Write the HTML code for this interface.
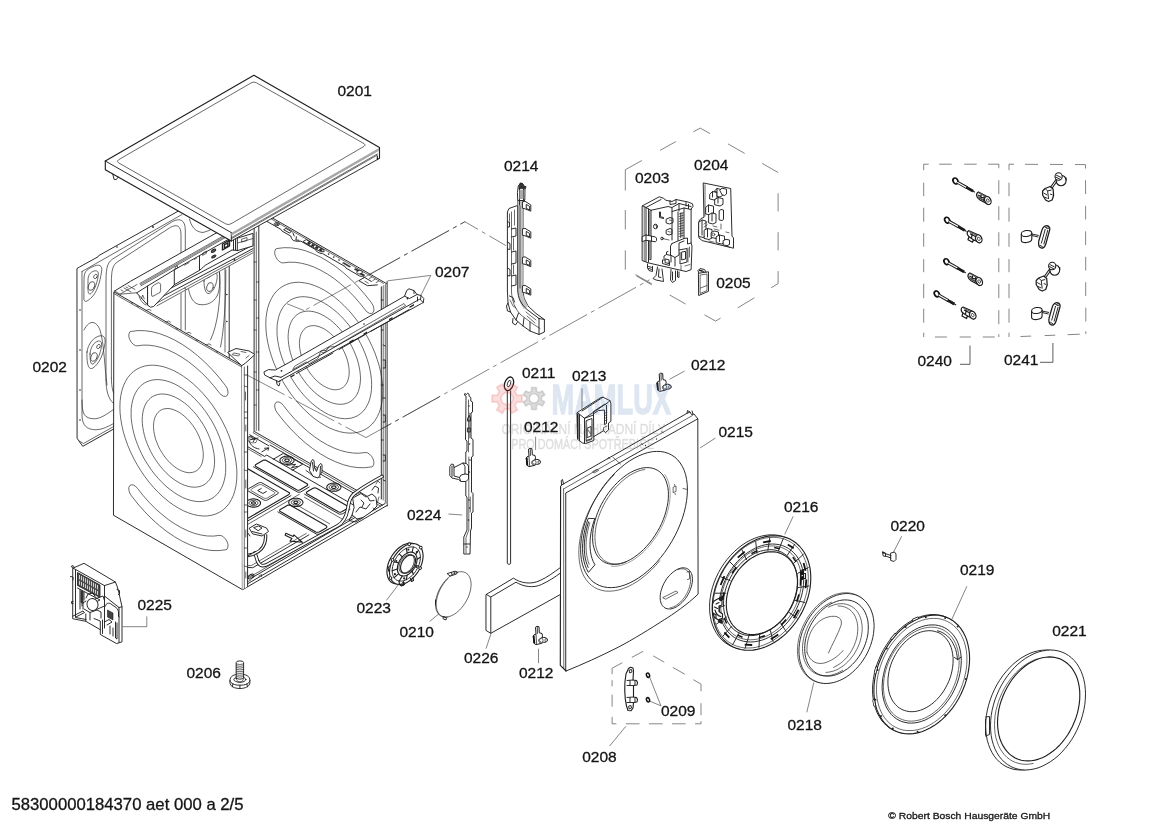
<!DOCTYPE html>
<html><head><meta charset="utf-8"><title>Exploded view</title>
<style>
html,body{margin:0;padding:0;background:#fff;}
body{width:1170px;height:828px;overflow:hidden;font-family:"Liberation Sans",sans-serif;}
svg{display:block;will-change:transform;}
svg text{font-family:"Liberation Sans",sans-serif;fill:#141414;stroke:#141414;stroke-width:.3px;}
.k{fill:none;stroke:#222;stroke-width:.95;stroke-linejoin:round;stroke-linecap:round;}
.k2{fill:none;stroke:#1e1e1e;stroke-width:1.12;stroke-linejoin:round;stroke-linecap:round;}
.t{fill:none;stroke:#2a2a2a;stroke-width:.7;stroke-linejoin:round;stroke-linecap:round;}
.h{fill:none;stroke:#444;stroke-width:.5;stroke-linejoin:round;stroke-linecap:round;}
.w{fill:#fff;}
.ns *{vector-effect:non-scaling-stroke;}
.dd{fill:none;stroke:#333;stroke-width:.7;stroke-dasharray:22 4 3 4;}
.ds{fill:none;stroke:#333;stroke-width:.7;stroke-dasharray:12 7;}
.ld{fill:none;stroke:#333;stroke-width:.6;}
</style></head><body>
<svg width="1170" height="828" viewBox="0 0 1170 828">
<rect x="0" y="0" width="1170" height="828" fill="#fff"/>
<!-- 02_axes.svg -->
<g id="axes">
<path class="ld" d="M464.900,221.700 L505.900,245.600" style="stroke-dasharray:43 4.5 4 4.5;stroke-dashoffset:27.8"/>
<path class="ld" d="M464.900,221.700 L304.200,310.600" style="stroke-dasharray:43 4.5 4 4.5;stroke-dashoffset:38"/>
<path class="ld" d="M366,437.600 L649.500,279.800" style="stroke-dasharray:43 4.5 4 4.5;stroke-dashoffset:14"/>
</g>

<!-- 05_dashes.svg -->
<g id="dashes">
<path class="ld" d="M625.3,169.7 L641.9,160.5 M660,150.4 L675.8,141.6 M693.3,131.9 L700.3,128.1 M700.3,128.1 L710,133.6 M728,143.9 L744.7,153.4 M762.2,163.4 L778.1,172.5 M778.1,193.3 L778.1,211.4 M778.1,232.2 L778.1,250.3 M778.1,271.1 L778.1,283.6 M778.1,283.6 L771.1,287.8 M754.4,297.8 L737.8,307.8 M720.6,318.1 L715.6,321.1 M715.6,321.1 L704.5,314.8 M685.6,304 L669.7,295 M651.6,284.7 L636.4,276 M625.3,269.7 L625.3,250.3 M625.3,229.4 L625.3,210 M625.3,190.5 L625.3,169.7 "/>
</g>
<g id="dashes2">
<path class="ld" d="M923.7,164.2 L928.7,164.2 M939.2,164.2 L951.7,164.2 M964.2,164.2 L976.7,164.2 M988.2,164.2 L998.8,164.2 M998.8,164.2 L998.8,168.2 M998.8,180.2 L998.8,194.2 M998.8,206.2 L998.8,220.2 M998.8,232.2 L998.8,246.2 M998.8,258.2 L998.8,272.2 M998.8,284.2 L998.8,298.2 M998.8,310.2 L998.8,324.2 M998.8,334.2 L998.8,337 M934.9,337 L946.9,337 M959.7,337 L970.8,337 M982.8,337 L994.7,337 M923.7,164.2 L923.7,170.2 M923.7,182.7 L923.7,196.2 M923.7,207.7 L923.7,221.7 M923.7,233.2 L923.7,246.7 M923.7,259.2 L923.7,272.2 M923.7,283.7 L923.7,298.2 M923.7,308.7 L923.7,322.7 M923.7,332.7 L923.7,337 "/>
<path class="ld" d="M1009,164.2 L1014,164.2 M1025,164.3 L1038,164.4 M1050,164.4 L1063,164.5 M1075,164.5 L1085.5,164.6 M1085.5,164.6 L1085.5,168.5 M1085.5,180.3 L1085.6,194 M1085.6,205.8 L1085.6,219.5 M1085.6,231.3 L1085.6,245 M1085.7,256.8 L1085.7,270.5 M1085.7,282.2 L1085.7,296 M1085.8,307.7 L1085.8,321.5 M1085.8,331.3 L1085.8,334 M1020.5,336.5 L1031.1,336.1 M1044.6,335.6 L1055.2,335.2 M1067.7,334.7 L1079.8,334.2 M1009,164.2 L1009,170.2 M1009,182.7 L1009,196.2 M1009,207.7 L1009,221.7 M1009,233.2 L1009,246.7 M1009,259.2 L1009,272.2 M1009,283.7 L1009,298.2 M1009,308.7 L1009,322.7 M1009,332.7 L1009,337 "/>
</g>
<g id="dashes3"><path class="ld" d="M612.1,674.2 L612.1,668.2 M612.1,668.2 L622.4,662.7 M631.8,657.4 L643.2,651.3 M653.2,655.9 L664.3,662.2 M672.8,667.4 L684.8,674.2 M693.3,679.7 L701,684.1 M701,684.1 L701,691.3 M701,703.2 L701,715.2 M701,721.2 L701,723.8 M701,723.8 L695,723.8 M685.6,723.8 L672,723.8 M662.6,723.8 L648.9,723.8 M639.5,723.8 L625.8,723.8 M616.4,723.8 L612.1,723.8 M612.1,723.8 L612.1,716.9 M612.1,706.7 L612.1,694.7 M612.1,686.2 L612.1,680.2 "/></g>

<!-- 10_rear0202.svg -->
<g id="p0202">
<!-- rear panel outline -->
<path class="k w" d="M77.3,268.3 L79.5,267 L98,256.8 L98.6,255.7 L182,209 L229.2,225 L229.2,364.3 L82.8,446.3 L78.8,440.8 L77.3,438.5 Z"/>
<path class="t" d="M82,271.5 L182,214.5 M82,271.5 L82,400 C82,414 84,418.500 94.500,418.800 C101,418.500 107,414 113.700,409.400 M82,400 L82,416 C82.500,425 86,429.500 96,429.800 C103,429.500 108,426.500 113.700,423.500 M78.800,440.800 L83.500,443.500 L113.700,426.500"/>
<!-- big window contour (double line) -->
<path class="t" d="M106,380 L106,281 C106,266 108,261.500 114.300,258 L172.200,221.700 C180,217.500 185.300,220 185.300,230 L185.300,330"/>
<path class="t" d="M111.400,378 L111.400,283 C111.400,270 112.500,265 118,261.500 L170.500,227.300 C177,224 181,225.500 181,235 L181,330"/>
<path class="t" d="M106,380 C106,402 116,412 134,403 L182,376"/>
<path class="t" d="M111.400,378 C111.400,397 118,405.500 134,398 L182,371.500"/>
<!-- upper-left transport hole -->
<path class="t" d="M84,279 C84,272 86,270 92,267 C99,263.500 103,265 101.500,272 C100,282 97,292 92,297 C88,301 85,303 84,300 Z"/>
<path class="t" d="M88,280 C88,275 90,272.500 94,271 C98,270 99,272.500 98,277 C96.500,285 94,291 91,293.500 C89,295 88,293 88,290 Z"/>
<ellipse class="t" cx="91.500" cy="286" rx="3" ry="4.500" transform="rotate(20 91.500 286)"/>
<ellipse class="t" cx="95.500" cy="276.500" rx="1.600" ry="2.300" transform="rotate(30 95.500 276.500)"/>
<!-- lower-left transport hole -->
<path class="t" d="M87,352 C88,344 93,338 99,336 C105,334.500 106,339 104.500,346 C103,355 99,364 93,368 C88,371 86.500,362 87,352 Z"/>
<path class="t" d="M90,354 C90.500,347 94,342 98.500,341 C102,340.500 102,344 101,349 C99.500,356 96.500,362 93,364 C90.500,365 90,360 90,354 Z"/>
<ellipse class="t" cx="94" cy="357" rx="3" ry="4.500" transform="rotate(20 94 357)"/>
<ellipse class="t" cx="98.500" cy="346.500" rx="1.600" ry="2.300" transform="rotate(30 98.500 346.500)"/>
<!-- sweep lines lower -->
<path class="t" d="M84,330 C90,318 97,322 100,330 C104,342 105,372 107,385"/>
<!-- upper sweep near top panel -->
<path class="t" d="M189.500,219 C191,226 195,232 203,232.500 L210,230.200"/>
<!-- right edge of rear panel seen through cabinet -->
<path class="t" d="M225,262 L225,352"/>
<path class="t" d="M219.500,272 C221.500,295 218,325 210.500,340 M225.800,270 C226,300 224,330 220.500,347"/>
<g fill="#222"><circle cx="226.800" cy="294.500" r=".8"/><circle cx="226.800" cy="321.500" r=".8"/></g>
<!-- upper right transport hole seen through -->
<path class="t" d="M188.500,289 C190,297 193,303 199,304.500 C207,305.500 213,303 217,296 C220,290 220,282 219.500,272"/>
<path class="t" d="M204,281 C204.500,276 209,272 213.500,271.500 C217,271.500 217.500,275 217,279 C216,286 213,292 209,293.500 C205.500,294 204,288 204,281 Z"/>
<ellipse class="t" cx="210" cy="287" rx="3.200" ry="4.500" transform="rotate(15 210 287)"/>
<path class="t" d="M207,276 l3,-1.500 M207.500,278 l3,-1.500"/>
<!-- rivets -->
<g fill="#222"><circle cx="153" cy="227" r=".9"/><circle cx="117" cy="247" r=".8"/><circle cx="80" cy="310" r=".8"/><circle cx="80" cy="350" r=".8"/><circle cx="80" cy="390" r=".8"/><circle cx="80" cy="420" r=".8"/></g>
</g>

<!-- 20_cab_right.svg -->
<g id="cabR">
<path class="w" d="M254.1,222 L381.3,284.5 L381.3,500 L254.1,431 Z"/>
<path class="t" d="M349.2,372 L349.1,374.5 L348.8,376.8 L348.3,378.9 L347.7,381 L346.9,382.8 L345.8,384.4 L344.7,385.9 L343.4,387.1 L341.9,388.1 L340.3,388.9 L338.6,389.4 L336.7,389.7 L334.8,389.8 L332.8,389.6 L330.7,389.1 L328.6,388.4 L326.5,387.5 L324.3,386.4 L322.1,385 L320,383.5 L317.9,381.7 L315.8,379.8 L313.8,377.7 L311.9,375.4 L310,373 L308.3,370.5 L306.7,367.9 L305.2,365.2 L303.9,362.4 L302.8,359.7 L301.7,356.9 L300.9,354.1 L300.3,351.3 L299.8,348.6 L299.5,345.9 L299.4,343.4 L299.5,340.9 L299.8,338.6 L300.3,336.5 L300.9,334.4 L301.7,332.6 L302.8,331 L303.9,329.5 L305.2,328.3 L306.7,327.3 L308.3,326.5 L310,326 L311.9,325.7 L313.8,325.6 L315.8,325.8 L317.9,326.3 L320,327 L322.1,327.9 L324.3,329 L326.5,330.4 L328.6,331.9 L330.7,333.7 L332.8,335.6 L334.8,337.7 L336.7,340 L338.6,342.4 L340.3,344.9 L341.9,347.5 L343.4,350.2 L344.7,353 L345.8,355.7 L346.9,358.5 L347.7,361.3 L348.3,364.1 L348.8,366.8 L349.1,369.5 Z"/>
<path class="t" d="M360.5,378.5 L360.3,382 L359.9,385.4 L359.2,388.6 L358.3,391.5 L357.1,394.2 L355.6,396.6 L353.9,398.6 L352,400.4 L349.9,401.9 L347.5,403 L345,403.8 L342.4,404.2 L339.6,404.3 L336.7,404 L333.7,403.4 L330.6,402.4 L327.5,401.1 L324.3,399.4 L321.1,397.4 L318,395.2 L314.9,392.6 L311.9,389.8 L309,386.7 L306.2,383.4 L303.6,379.9 L301.1,376.3 L298.7,372.5 L296.6,368.6 L294.7,364.6 L293,360.5 L291.5,356.5 L290.3,352.4 L289.4,348.4 L288.7,344.5 L288.3,340.6 L288.1,336.9 L288.3,333.4 L288.7,330 L289.4,326.8 L290.3,323.9 L291.5,321.2 L293,318.8 L294.7,316.8 L296.6,315 L298.7,313.5 L301.1,312.4 L303.6,311.6 L306.2,311.2 L309,311.1 L311.9,311.4 L314.9,312 L318,313 L321.1,314.3 L324.3,316 L327.5,318 L330.6,320.2 L333.7,322.8 L336.7,325.6 L339.6,328.7 L342.4,332 L345,335.5 L347.5,339.1 L349.9,342.9 L352,346.8 L353.9,350.8 L355.6,354.9 L357.1,358.9 L358.3,363 L359.2,367 L359.9,370.9 L360.3,374.8 Z"/>
<path class="t" d="M371.6,384.9 L371.5,389.6 L370.9,394 L370,398.1 L368.8,402 L367.2,405.4 L365.3,408.6 L363.1,411.3 L360.6,413.6 L357.8,415.6 L354.7,417 L351.5,418 L348,418.6 L344.3,418.7 L340.5,418.3 L336.6,417.5 L332.5,416.2 L328.4,414.5 L324.3,412.3 L320.2,409.7 L316.1,406.7 L312,403.4 L308.1,399.7 L304.3,395.7 L300.6,391.4 L297.1,386.8 L293.9,382 L290.8,377.1 L288,371.9 L285.5,366.7 L283.3,361.4 L281.4,356.1 L279.8,350.8 L278.6,345.5 L277.7,340.4 L277.1,335.3 L277,330.5 L277.1,325.8 L277.7,321.4 L278.6,317.3 L279.8,313.4 L281.4,310 L283.3,306.8 L285.5,304.1 L288,301.8 L290.8,299.8 L293.9,298.4 L297.1,297.4 L300.6,296.8 L304.3,296.7 L308.1,297.1 L312,297.9 L316.1,299.2 L320.2,300.9 L324.3,303.1 L328.4,305.7 L332.5,308.7 L336.6,312 L340.5,315.7 L344.3,319.7 L348,324 L351.5,328.6 L354.7,333.4 L357.8,338.3 L360.6,343.5 L363.1,348.7 L365.3,354 L367.2,359.3 L368.8,364.6 L370,369.9 L370.9,375 L371.5,380.1 Z"/>
<path class="t" d="M382.8,391.3 L382.6,397.1 L381.9,402.6 L380.8,407.7 L379.3,412.4 L377.3,416.7 L375,420.6 L372.2,424 L369.1,426.9 L365.7,429.2 L361.9,431 L357.9,432.3 L353.6,433 L349,433.1 L344.3,432.6 L339.4,431.6 L334.5,430 L329.4,427.9 L324.3,425.2 L319.2,422 L314.1,418.3 L309.2,414.2 L304.3,409.6 L299.6,404.7 L295,399.3 L290.7,393.7 L286.7,387.8 L282.9,381.6 L279.5,375.3 L276.4,368.9 L273.6,362.3 L271.3,355.7 L269.3,349.2 L267.8,342.7 L266.7,336.3 L266,330.1 L265.8,324.1 L266,318.3 L266.7,312.8 L267.8,307.7 L269.3,303 L271.3,298.7 L273.6,294.8 L276.4,291.4 L279.5,288.5 L282.9,286.2 L286.7,284.4 L290.7,283.1 L295,282.4 L299.6,282.3 L304.3,282.8 L309.2,283.8 L314.1,285.4 L319.2,287.5 L324.3,290.2 L329.4,293.4 L334.5,297.1 L339.4,301.2 L344.3,305.8 L349,310.7 L353.6,316.1 L357.9,321.7 L361.9,327.6 L365.7,333.8 L369.1,340.1 L372.2,346.5 L375,353.1 L377.3,359.7 L379.3,366.2 L380.8,372.7 L381.9,379.1 L382.6,385.3 Z"/>
<path class="t" d="M277.2,248.5 L283.8,247.7 L290.7,247.8 L297.9,248.8 L305.3,250.7 L312.8,253.5 L320.5,257.1 L328.1,261.5 L335.8,266.7 L343.3,272.6 L350.7,279.2 L357.9,286.5 L364.8,294.3 L371.4,302.7 L373,305.3 L373.8,308.2 L373.9,310.7 L373,312.6 L371.5,313.5 L369.4,313.3 L367.2,312.1 L365.2,309.9 L359.5,302.7 L353.5,295.9 L347.3,289.6 L340.8,283.9 L334.3,278.7 L327.6,274.2 L321,270.4 L314.3,267.2 L307.8,264.8 L301.3,263.2 L295.1,262.3 L289.1,262.2 L283.4,262.9 L281.4,262.7 L279.2,261.4 L277.1,259.2 L275.6,256.6 L274.7,253.7 L274.8,251.2 L275.6,249.3 Z"/>
<path class="t" d="M371.4,466.9 L364.8,467.7 L357.9,467.6 L350.7,466.6 L343.3,464.7 L335.8,461.9 L328.1,458.3 L320.5,453.9 L312.8,448.7 L305.3,442.8 L297.9,436.2 L290.7,428.9 L283.8,421.1 L277.2,412.7 L275.6,410.1 L274.8,407.2 L274.7,404.7 L275.6,402.8 L277.1,401.9 L279.2,402.1 L281.4,403.3 L283.4,405.5 L289.1,412.7 L295.1,419.5 L301.3,425.8 L307.8,431.5 L314.3,436.7 L321,441.2 L327.6,445 L334.3,448.2 L340.8,450.6 L347.3,452.2 L353.5,453.1 L359.5,453.2 L365.2,452.5 L367.2,452.7 L369.4,454 L371.5,456.2 L373,458.8 L373.9,461.7 L373.8,464.2 L373,466.1 Z"/>
<path class="k" d="M254.1,228 L254.1,440 M258.8,226 L258.8,436"/>
<path class="t" d="M256.3,232 L256.3,438"/>
<path class="t" d="M254.1,262 l2.2,0 M254.1,300 l2.2,0 M256.3,282 l2.5,0 M254.1,330 l2.2,0 M256.3,352 l2.5,0 M254.1,372 l2.2,0 M254.1,405 l2.2,0 M256.3,318 l2.5,0 M256.3,390 l2.5,0"/>
<path class="k" d="M381.3,284 L381.3,499 M387.1,281.5 L387.1,506"/>
<path class="t" d="M383.2,285 L383.2,500 M385.3,284 L385.3,503"/>
<path class="k" d="M381.3,300 l1.9,0 M383.2,312 l2.1,0 l0,6 l-2.1,0 M381.3,330 l1.9,0 M383.2,345 l2.1,1 M383.2,360 l2.1,0 l0,8 l-2.1,0 M381.3,385 l1.9,0 M383.2,398 l2.1,0 M383.2,415 l2.1,0 l0,7 l-2.1,0 M381.3,440 l1.9,0 M383.2,455 l2.1,0 l0,6 l-2.1,0 M383.2,480 l2.1,1"/>
<path class="w" d="M260.8,211.3 L386.5,283.6 L380.5,287.1 L254.8,214.8 Z"/>
<path class="k" d="M260.8,211.3 L386.5,283.6"/>
<path class="t" d="M261.1,213.1 L383.4,283.4"/>
<path class="k" d="M256.9,215.6 L281.2,229.6 L282.1,231.1 L290.7,236 L291.6,238.5 L293.3,240.5 L297.2,241.3 L300.9,241.2 L315.6,249.6 L316.3,251.2 L319.8,253.2 L322.6,253.6 L345.1,266.6 L346,268.1 L359.8,276.1 L362.7,276.4 L371.4,281.4"/>
<path class="k" d="M278.7,225.2 L278.5,225.3 L278.3,225.4 L278.1,225.4 L277.9,225.5 L277.7,225.6 L277.5,225.6 L277.2,225.6 L277,225.7 L276.8,225.7 L276.5,225.7 L276.3,225.6 L276.1,225.6 L275.8,225.6 L275.6,225.5 L275.4,225.5 L275.2,225.4 L275,225.3 L274.9,225.2 L274.7,225.1 L274.6,225 L274.4,224.9 L274.3,224.8 L274.2,224.6 L274.2,224.5 L274.1,224.4 L274.1,224.2 L274.1,224.1 L274.1,224 L274.1,223.8 L274.2,223.7 L274.2,223.6 L274.3,223.5 L274.4,223.3 L274.6,223.2 L274.7,223.1 L274.9,223 L275,222.9 L275.2,222.8 L275.4,222.8 L275.6,222.7 L275.8,222.6 L276.1,222.6 L276.3,222.6 L276.5,222.5 L276.8,222.5 L277,222.5 L277.2,222.6 L277.5,222.6 L277.7,222.6 L277.9,222.7 L278.1,222.7 L278.3,222.8 L278.5,222.9 L278.7,223 L278.8,223.1 L279,223.2 L279.1,223.3 L279.2,223.4 L279.3,223.6 L279.4,223.7 L279.4,223.8 L279.4,224 L279.5,224.1 L279.4,224.2 L279.4,224.4 L279.4,224.5 L279.3,224.6 L279.2,224.8 L279.1,224.9 L279,225 L278.8,225.1 Z"/>
<path class="k" d="M277.6,224.6 L277.5,224.6 L277.5,224.7 L277.4,224.7 L277.3,224.7 L277.2,224.8 L277.1,224.8 L277,224.8 L276.9,224.8 L276.8,224.8 L276.7,224.8 L276.6,224.8 L276.4,224.8 L276.3,224.8 L276.2,224.7 L276.2,224.7 L276.1,224.7 L276,224.6 L275.9,224.6 L275.8,224.6 L275.8,224.5 L275.7,224.5 L275.7,224.4 L275.6,224.3 L275.6,224.3 L275.6,224.2 L275.5,224.2 L275.5,224.1 L275.5,224 L275.6,224 L275.6,223.9 L275.6,223.9 L275.7,223.8 L275.7,223.8 L275.8,223.7 L275.8,223.6 L275.9,223.6 L276,223.6 L276.1,223.5 L276.1,223.5 L276.2,223.5 L276.3,223.4 L276.4,223.4 L276.5,223.4 L276.7,223.4 L276.8,223.4 L276.9,223.4 L277,223.4 L277.1,223.4 L277.2,223.4 L277.3,223.5 L277.4,223.5 L277.5,223.5 L277.5,223.6 L277.6,223.6 L277.7,223.6 L277.8,223.7 L277.8,223.7 L277.9,223.8 L277.9,223.9 L277.9,223.9 L278,224 L278,224 L278,224.1 L278,224.2 L278,224.2 L277.9,224.3 L277.9,224.3 L277.9,224.4 L277.8,224.5 L277.8,224.5 L277.7,224.6 Z"/>
<path class="k" d="M286.3,228.6 L291.5,231.6 L289.3,232.9 L284,229.9 Z M292.9,232.8 L294.2,236"/>
<path class="k" d="M296.4,236.8 L295.9,240 L299,240.3"/>
<path class="k" d="M306.6,239.8 L323.9,249.8 L324.1,251.7 L320.6,251.7 L303.3,241.8 Z"/>
<path d="M308.5,241.7 L310.7,243 L309.5,244.5 L307.3,243.3 Z" fill="#222" stroke="#222" stroke-width=".5"/><path d="M312.4,244 L314.6,245.3 L313.4,246.8 L311.2,245.5 Z" fill="#222" stroke="#222" stroke-width=".5"/><path d="M316.3,246.2 L318.5,247.5 L317.3,249 L315.1,247.7 Z" fill="#222" stroke="#222" stroke-width=".5"/><path d="M320.2,248.5 L322.5,249.8 L321.2,251.3 L319,250 Z" fill="#222" stroke="#222" stroke-width=".5"/><circle cx="328.6" cy="254.1" r=".8" fill="#222"/><circle cx="333.8" cy="257.1" r=".8" fill="#222"/><circle cx="339" cy="260.1" r=".8" fill="#222"/><path d="M343.7,262.4 L350.6,266.4 L349.4,267.1 L342.5,263.1 Z" fill="#222" stroke="#222" stroke-width=".5"/><path class="k" d="M361.7,273.4 L361.5,273.5 L361.3,273.5 L361.1,273.6 L360.9,273.7 L360.7,273.8 L360.4,273.8 L360.2,273.8 L359.9,273.9 L359.7,273.9 L359.4,273.9 L359.1,273.8 L358.9,273.8 L358.6,273.8 L358.4,273.7 L358.2,273.6 L358,273.6 L357.8,273.5 L357.6,273.4 L357.4,273.3 L357.2,273.1 L357.1,273 L357,272.9 L356.9,272.8 L356.8,272.6 L356.8,272.5 L356.7,272.3 L356.7,272.2 L356.7,272 L356.8,271.9 L356.8,271.7 L356.9,271.6 L357,271.4 L357.1,271.3 L357.2,271.2 L357.4,271.1 L357.6,271 L357.8,270.9 L358,270.8 L358.2,270.7 L358.4,270.6 L358.6,270.6 L358.9,270.5 L359.1,270.5 L359.4,270.5 L359.6,270.5 L359.9,270.5 L360.2,270.5 L360.4,270.5 L360.6,270.6 L360.9,270.6 L361.1,270.7 L361.3,270.8 L361.5,270.8 L361.7,270.9 L361.9,271.1 L362.1,271.2 L362.2,271.3 L362.3,271.4 L362.4,271.6 L362.5,271.7 L362.5,271.9 L362.6,272 L362.6,272.1 L362.6,272.3 L362.5,272.4 L362.5,272.6 L362.4,272.7 L362.3,272.9 L362.2,273 L362.1,273.1 L361.9,273.2 Z"/>
<path d="M355.7,268.4 L359.2,270.4 L357.7,271.3 L354.3,269.3 Z" fill="#222" stroke="#222" stroke-width=".5"/><path d="M361.4,273.2 L364.8,275.1 L363.5,276 L360,274 Z" fill="#222" stroke="#222" stroke-width=".5"/><path class="t" d="M371.8,277.1 L369.2,278.6 M375.2,279.1 L372.7,280.6 M378.7,281.1 L376.1,282.6"/>
<path class="k" d="M364.4,277.4 L358.8,280.7 L367.5,285.7 L377.4,284.9"/>
<path class="t" d="M364.9,281.2 L368.3,283.2"/>
</g>

<!-- 25_floor.svg -->
<g id="floor">
<path class="w" d="M257.5,430.3 L387.6,505.1 L243.3,589.3 L113.3,514.6 Z"/>
<path class="k" d="M254.9,431.8 L382.4,505.1"/>
<path class="t" d="M253.2,432.8 L380.6,506.1"/>
<path class="k" d="M249.7,434.8 L268.8,445.8 M270.1,445.1 L374.1,504.9"/>
<path class="k" d="M238.5,441.4 L264.5,456.4 L266.7,455.1 L362,509.9"/>
<path class="t" d="M236.8,442.4 L261.1,456.4"/>
<path class="k2" d="M292.1,463.2 L291.6,463.4 L291.1,463.6 L290.6,463.8 L290,464 L289.5,464.1 L288.9,464.3 L288.3,464.3 L287.7,464.4 L287,464.4 L286.4,464.4 L285.8,464.3 L285.2,464.3 L284.6,464.2 L284,464 L283.5,463.9 L283,463.7 L282.5,463.5 L282,463.2 L281.6,463 L281.2,462.7 L280.9,462.4 L280.6,462 L280.4,461.7 L280.2,461.4 L280,461 L280,460.7 L279.9,460.3 L280,460 L280,459.6 L280.2,459.2 L280.3,458.9 L280.6,458.6 L280.9,458.3 L281.2,457.9 L281.6,457.7 L282,457.4 L282.5,457.2 L282.9,456.9 L283.5,456.7 L284,456.6 L284.6,456.4 L285.2,456.3 L285.8,456.2 L286.4,456.2 L287,456.2 L287.6,456.2 L288.2,456.2 L288.8,456.3 L289.4,456.4 L290,456.5 L290.6,456.7 L291.1,456.9 L291.6,457.1 L292,457.4 L292.5,457.6 L292.8,457.9 L293.2,458.2 L293.4,458.5 L293.7,458.9 L293.9,459.2 L294,459.5 L294.1,459.9 L294.1,460.3 L294.1,460.6 L294,461 L293.9,461.3 L293.7,461.7 L293.5,462 L293.2,462.3 L292.8,462.6 L292.5,462.9 Z"/>
<path class="k" d="M290.3,462.2 L290,462.3 L289.7,462.5 L289.4,462.6 L289,462.7 L288.6,462.8 L288.2,462.9 L287.8,462.9 L287.4,463 L287,463 L286.6,463 L286.2,462.9 L285.8,462.9 L285.4,462.8 L285.1,462.7 L284.7,462.6 L284.4,462.5 L284,462.4 L283.7,462.2 L283.5,462 L283.2,461.8 L283,461.6 L282.8,461.4 L282.7,461.2 L282.5,461 L282.4,460.8 L282.4,460.5 L282.4,460.3 L282.4,460.1 L282.4,459.8 L282.5,459.6 L282.7,459.4 L282.8,459.2 L283,459 L283.2,458.8 L283.5,458.6 L283.7,458.4 L284,458.2 L284.3,458.1 L284.7,458 L285,457.9 L285.4,457.8 L285.8,457.7 L286.2,457.6 L286.6,457.6 L287,457.6 L287.4,457.6 L287.8,457.6 L288.2,457.7 L288.6,457.7 L289,457.8 L289.3,457.9 L289.7,458.1 L290,458.2 L290.3,458.4 L290.6,458.5 L290.8,458.7 L291,458.9 L291.2,459.1 L291.4,459.4 L291.5,459.6 L291.6,459.8 L291.7,460 L291.7,460.3 L291.7,460.5 L291.6,460.7 L291.5,461 L291.4,461.2 L291.2,461.4 L291.1,461.6 L290.8,461.8 L290.6,462 Z"/>
<path class="k2" d="M288.6,461.2 L288.4,461.3 L288.3,461.3 L288.1,461.4 L288,461.4 L287.8,461.5 L287.6,461.5 L287.4,461.5 L287.2,461.6 L287,461.6 L286.8,461.6 L286.6,461.5 L286.5,461.5 L286.3,461.5 L286.1,461.4 L285.9,461.4 L285.8,461.3 L285.6,461.3 L285.5,461.2 L285.3,461.1 L285.2,461 L285.1,460.9 L285,460.8 L285,460.7 L284.9,460.6 L284.9,460.5 L284.8,460.4 L284.8,460.3 L284.8,460.2 L284.9,460.1 L284.9,460 L285,459.9 L285,459.8 L285.1,459.7 L285.2,459.6 L285.3,459.5 L285.5,459.4 L285.6,459.3 L285.8,459.2 L285.9,459.2 L286.1,459.1 L286.3,459.1 L286.4,459.1 L286.6,459 L286.8,459 L287,459 L287.2,459 L287.4,459 L287.6,459.1 L287.8,459.1 L288,459.1 L288.1,459.2 L288.3,459.2 L288.4,459.3 L288.6,459.4 L288.7,459.5 L288.8,459.5 L288.9,459.6 L289,459.7 L289.1,459.8 L289.1,460 L289.2,460.1 L289.2,460.2 L289.2,460.3 L289.2,460.4 L289.2,460.5 L289.2,460.6 L289.1,460.7 L289,460.8 L288.9,460.9 L288.8,461 L288.7,461.1 Z"/>
<path class="k2" d="M338.9,490.1 L338.4,490.3 L337.9,490.6 L337.4,490.8 L336.9,490.9 L336.3,491.1 L335.7,491.2 L335.1,491.3 L334.5,491.3 L333.9,491.3 L333.2,491.3 L332.6,491.3 L332,491.2 L331.4,491.1 L330.9,490.9 L330.3,490.8 L329.8,490.6 L329.3,490.4 L328.8,490.1 L328.4,489.9 L328,489.6 L327.7,489.3 L327.4,489 L327.2,488.6 L327,488.3 L326.9,487.9 L326.8,487.6 L326.7,487.2 L326.8,486.9 L326.8,486.5 L327,486.2 L327.2,485.8 L327.4,485.5 L327.7,485.2 L328,484.9 L328.4,484.6 L328.8,484.3 L329.3,484.1 L329.8,483.9 L330.3,483.7 L330.8,483.5 L331.4,483.3 L332,483.2 L332.6,483.2 L333.2,483.1 L333.8,483.1 L334.4,483.1 L335.1,483.2 L335.7,483.2 L336.3,483.3 L336.8,483.5 L337.4,483.6 L337.9,483.8 L338.4,484 L338.8,484.3 L339.3,484.5 L339.6,484.8 L340,485.1 L340.3,485.4 L340.5,485.8 L340.7,486.1 L340.8,486.5 L340.9,486.8 L340.9,487.2 L340.9,487.5 L340.8,487.9 L340.7,488.2 L340.5,488.6 L340.3,488.9 L340,489.2 L339.7,489.5 L339.3,489.8 Z"/>
<path class="k" d="M337.1,489.1 L336.8,489.3 L336.5,489.4 L336.2,489.5 L335.8,489.6 L335.4,489.7 L335.1,489.8 L334.7,489.9 L334.3,489.9 L333.9,489.9 L333.4,489.9 L333,489.9 L332.6,489.8 L332.3,489.7 L331.9,489.7 L331.5,489.5 L331.2,489.4 L330.9,489.3 L330.6,489.1 L330.3,489 L330,488.8 L329.8,488.6 L329.6,488.4 L329.5,488.1 L329.4,487.9 L329.3,487.7 L329.2,487.5 L329.2,487.2 L329.2,487 L329.3,486.8 L329.3,486.5 L329.5,486.3 L329.6,486.1 L329.8,485.9 L330,485.7 L330.3,485.5 L330.5,485.3 L330.8,485.2 L331.2,485 L331.5,484.9 L331.9,484.8 L332.2,484.7 L332.6,484.6 L333,484.6 L333.4,484.5 L333.8,484.5 L334.2,484.5 L334.6,484.6 L335,484.6 L335.4,484.7 L335.8,484.8 L336.2,484.9 L336.5,485 L336.8,485.1 L337.1,485.3 L337.4,485.5 L337.6,485.6 L337.9,485.8 L338.1,486.1 L338.2,486.3 L338.3,486.5 L338.4,486.7 L338.5,487 L338.5,487.2 L338.5,487.4 L338.4,487.7 L338.3,487.9 L338.2,488.1 L338.1,488.3 L337.9,488.5 L337.7,488.7 L337.4,488.9 Z"/>
<path class="k2" d="M335.4,488.1 L335.3,488.2 L335.1,488.2 L334.9,488.3 L334.8,488.4 L334.6,488.4 L334.4,488.4 L334.2,488.5 L334,488.5 L333.8,488.5 L333.7,488.5 L333.5,488.5 L333.3,488.4 L333.1,488.4 L332.9,488.4 L332.7,488.3 L332.6,488.3 L332.4,488.2 L332.3,488.1 L332.2,488 L332,487.9 L331.9,487.9 L331.8,487.8 L331.8,487.7 L331.7,487.5 L331.7,487.4 L331.6,487.3 L331.6,487.2 L331.6,487.1 L331.7,487 L331.7,486.9 L331.8,486.8 L331.8,486.7 L331.9,486.6 L332,486.5 L332.2,486.4 L332.3,486.3 L332.4,486.2 L332.6,486.2 L332.7,486.1 L332.9,486.1 L333.1,486 L333.3,486 L333.5,486 L333.6,485.9 L333.8,485.9 L334,485.9 L334.2,485.9 L334.4,486 L334.6,486 L334.8,486 L334.9,486.1 L335.1,486.2 L335.3,486.2 L335.4,486.3 L335.5,486.4 L335.6,486.5 L335.7,486.6 L335.8,486.7 L335.9,486.8 L336,486.9 L336,487 L336,487.1 L336,487.2 L336,487.3 L336,487.4 L336,487.5 L335.9,487.6 L335.8,487.7 L335.8,487.8 L335.6,487.9 L335.5,488 Z"/>
<path class="k" d="M273.2,459.3 L283.5,453.3 L302.6,464.2 L292.2,470.3"/>
<path class="k" d="M287,465.3 L295.7,464.3 L291.4,467.8 L297.4,466.3"/>
<path class="t" d="M255.8,442.3 L255.6,442.5 L255.3,442.6 L255,442.7 L254.7,442.7 L254.4,442.8 L254.1,442.8 L253.7,442.8 L253.3,442.8 L253,442.8 L252.6,442.8 L252.2,442.7 L251.8,442.7 L251.5,442.6 L251.1,442.5 L250.7,442.3 L250.4,442.2 L250.1,442 L249.8,441.9 L249.5,441.7 L249.2,441.5 L248.9,441.3 L248.7,441.1 L248.5,440.9 L248.4,440.7 L248.2,440.4 L248.1,440.2 L248.1,440 L248,439.8 L248,439.6 L248,439.4 L248.1,439.2 L248.2,439 L248.3,438.8 L248.5,438.6 L248.7,438.5 L248.9,438.4 L249.1,438.2 L249.4,438.1 L249.7,438 L250,438 L250.3,437.9 L250.6,437.9 L251,437.8 L251.4,437.8 L251.7,437.9 L252.1,437.9 L252.5,438 L252.9,438 L253.2,438.1 L253.6,438.2 L253.9,438.4 L254.3,438.5 L254.6,438.7 L254.9,438.8 L255.2,439 L255.5,439.2 L255.7,439.4 L256,439.6 L256.2,439.8 L256.3,440 L256.5,440.3 L256.6,440.5 L256.6,440.7 L256.7,440.9 L256.7,441.1 L256.6,441.3 L256.6,441.5 L256.5,441.7 L256.4,441.9 L256.2,442 L256,442.2 Z"/>
<path class="k" d="M249.7,439.9 L254.9,438.8 L253.2,441.8"/>
<path class="k" d="M261.9,451.8 L267.9,448.3 M264.5,448.3 L268.8,447.8 L268,450.3"/>
<circle cx="315.6" cy="476.7" r=".8" fill="#222"/><circle cx="320" cy="477.2" r=".8" fill="#222"/><path class="k2" d="M262.8,460.4 L263.6,460.1 L264.5,460 L265.5,460.1 L266.3,460.4 L307,483.8 L307.5,484.2 L307.7,484.8 L307.5,485.3 L307,485.8 L300.1,489.8 L299.3,490.1 L298.4,490.3 L297.4,490.1 L296.6,489.8 L255.9,466.4 L255.4,466 L255.2,465.4 L255.4,464.9 L255.9,464.4 Z"/>
<path class="k" d="M253.5,466.8 L297.7,492.2 L300.5,492.1 L309.2,487"/>
<path class="k2" d="M313.1,488.3 L313.9,488 L314.8,487.9 L315.7,488 L316.5,488.3 L347.8,506.2 L348.3,506.7 L348.5,507.2 L348.3,507.8 L347.8,508.2 L341.7,511.8 L340.9,512.1 L340,512.2 L339,512.1 L338.3,511.8 L307,493.8 L306.5,493.4 L306.3,492.8 L306.5,492.3 L307,491.8 Z"/>
<path class="k" d="M304.6,494.2 L339.3,514.2 L342.2,514 L349.9,509.5"/>
<path class="k2" d="M287.2,505.4 L288,505.1 L288.9,505 L289.8,505.1 L290.6,505.4 L326.2,525.8 L326.7,526.3 L326.9,526.9 L326.7,527.4 L326.2,527.9 L319.3,531.9 L318.5,532.2 L317.6,532.3 L316.6,532.2 L315.8,531.9 L280.3,511.5 L279.7,511 L279.6,510.5 L279.7,509.9 L280.3,509.5 Z"/>
<path class="k" d="M277.9,511.9 L316.9,534.3 L319.7,534.1 L328.4,529.1"/>
<path class="k2" d="M235.1,463.5 L235.9,463.2 L236.8,463.1 L237.8,463.2 L238.6,463.5 L288.9,492.4 L289.4,492.8 L289.6,493.4 L289.4,493.9 L288.9,494.4 L244,520.6 L243.2,520.9 L242.2,521 L241.3,520.9 L240.5,520.6 L190.2,491.7 L189.7,491.3 L189.5,490.7 L189.7,490.2 L190.2,489.7 Z"/>
<path class="k" d="M187.8,492.1 L241.6,523 L244.4,522.9 L291,495.6"/>
<path class="t" d="M299.3,494.3 L247.4,524.6 M304.5,497.3 L344.3,520.3 M294.1,503.4 L329.6,523.8"/>
<path class="k" d="M258.5,483 L259.3,482.6 L260.3,482.5 L261.2,482.6 L262,482.9 L277.6,491.9 L278.1,492.4 L278.3,492.9 L278.2,493.5 L277.6,493.9 L267.3,500 L266.5,500.3 L265.5,500.4 L264.6,500.3 L263.8,500 L248.2,491 L247.7,490.6 L247.5,490 L247.7,489.5 L248.2,489 Z"/>
<path class="t" d="M258.6,485 L259.3,484.7 L260.3,484.5 L261.2,484.6 L262,484.9 L274.2,491.9 L274.7,492.4 L274.9,492.9 L274.7,493.5 L274.2,493.9 L267.3,498 L266.5,498.3 L265.5,498.4 L264.6,498.3 L263.8,498 L251.7,491 L251.1,490.5 L250.9,490 L251.1,489.5 L251.6,489 Z"/>
<path class="k" d="M261.2,488.5 L257.7,490.5 L262.9,493.5 L266.4,491.5"/>
<path class="k2" d="M300.9,505.3 L300.4,505.5 L299.9,505.7 L299.4,505.9 L298.8,506.1 L298.3,506.2 L297.7,506.4 L297.1,506.4 L296.5,506.5 L295.8,506.5 L295.2,506.5 L294.6,506.4 L294,506.4 L293.4,506.3 L292.8,506.1 L292.3,506 L291.8,505.8 L291.3,505.6 L290.8,505.3 L290.4,505 L290,504.8 L289.7,504.5 L289.4,504.1 L289.2,503.8 L289,503.5 L288.8,503.1 L288.8,502.8 L288.7,502.4 L288.8,502 L288.8,501.7 L289,501.3 L289.1,501 L289.4,500.7 L289.7,500.3 L290,500 L290.4,499.8 L290.8,499.5 L291.3,499.2 L291.7,499 L292.3,498.8 L292.8,498.7 L293.4,498.5 L294,498.4 L294.6,498.3 L295.2,498.3 L295.8,498.3 L296.4,498.3 L297,498.3 L297.6,498.4 L298.2,498.5 L298.8,498.6 L299.4,498.8 L299.9,499 L300.4,499.2 L300.8,499.5 L301.3,499.7 L301.6,500 L302,500.3 L302.2,500.6 L302.5,501 L302.7,501.3 L302.8,501.6 L302.9,502 L302.9,502.4 L302.9,502.7 L302.8,503.1 L302.7,503.4 L302.5,503.8 L302.3,504.1 L302,504.4 L301.6,504.7 L301.3,505 Z"/>
<path class="k" d="M298.9,504.2 L298.7,504.3 L298.4,504.5 L298,504.6 L297.7,504.7 L297.3,504.8 L297,504.8 L296.6,504.9 L296.2,504.9 L295.8,504.9 L295.4,504.9 L295.1,504.9 L294.7,504.9 L294.3,504.8 L294,504.7 L293.6,504.6 L293.3,504.5 L293,504.3 L292.7,504.2 L292.5,504 L292.2,503.9 L292,503.7 L291.8,503.5 L291.7,503.3 L291.6,503.1 L291.5,502.8 L291.4,502.6 L291.4,502.4 L291.4,502.2 L291.5,502 L291.6,501.7 L291.7,501.5 L291.8,501.3 L292,501.1 L292.2,500.9 L292.4,500.8 L292.7,500.6 L293,500.4 L293.3,500.3 L293.6,500.2 L294,500.1 L294.3,500 L294.7,499.9 L295,499.9 L295.4,499.8 L295.8,499.8 L296.2,499.8 L296.6,499.9 L297,499.9 L297.3,500 L297.7,500.1 L298,500.2 L298.3,500.3 L298.6,500.4 L298.9,500.6 L299.2,500.7 L299.4,500.9 L299.6,501.1 L299.8,501.3 L300,501.5 L300.1,501.7 L300.2,501.9 L300.2,502.1 L300.2,502.4 L300.2,502.6 L300.2,502.8 L300.1,503 L300,503.2 L299.8,503.4 L299.6,503.6 L299.4,503.8 L299.2,504 Z"/>
<path class="k2" d="M297.2,503.2 L297.1,503.2 L296.9,503.3 L296.8,503.4 L296.7,503.4 L296.5,503.4 L296.3,503.5 L296.2,503.5 L296,503.5 L295.8,503.5 L295.7,503.5 L295.5,503.5 L295.3,503.5 L295.2,503.5 L295,503.4 L294.8,503.4 L294.7,503.3 L294.6,503.3 L294.4,503.2 L294.3,503.1 L294.2,503 L294.1,503 L294.1,502.9 L294,502.8 L293.9,502.7 L293.9,502.6 L293.9,502.5 L293.9,502.4 L293.9,502.3 L293.9,502.2 L293.9,502.1 L294,502 L294,501.9 L294.1,501.8 L294.2,501.7 L294.3,501.7 L294.4,501.6 L294.6,501.5 L294.7,501.5 L294.8,501.4 L295,501.4 L295.1,501.3 L295.3,501.3 L295.5,501.3 L295.6,501.3 L295.8,501.2 L296,501.3 L296.2,501.3 L296.3,501.3 L296.5,501.3 L296.6,501.4 L296.8,501.4 L296.9,501.5 L297.1,501.5 L297.2,501.6 L297.3,501.6 L297.4,501.7 L297.5,501.8 L297.6,501.9 L297.7,502 L297.7,502.1 L297.8,502.2 L297.8,502.3 L297.8,502.4 L297.8,502.5 L297.8,502.6 L297.7,502.7 L297.7,502.8 L297.6,502.9 L297.5,502.9 L297.4,503 L297.3,503.1 Z"/>
<path class="k2" d="M258.5,505.9 L258,506.2 L257.5,506.4 L257,506.6 L256.4,506.8 L255.9,506.9 L255.3,507 L254.7,507.1 L254.1,507.1 L253.4,507.1 L252.8,507.1 L252.2,507.1 L251.6,507 L251,506.9 L250.4,506.8 L249.9,506.6 L249.4,506.4 L248.9,506.2 L248.4,506 L248,505.7 L247.6,505.4 L247.3,505.1 L247,504.8 L246.8,504.5 L246.6,504.1 L246.4,503.8 L246.4,503.4 L246.3,503.1 L246.4,502.7 L246.4,502.3 L246.6,502 L246.8,501.6 L247,501.3 L247.3,501 L247.6,500.7 L248,500.4 L248.4,500.1 L248.9,499.9 L249.3,499.7 L249.9,499.5 L250.4,499.3 L251,499.2 L251.6,499.1 L252.2,499 L252.8,498.9 L253.4,498.9 L254,498.9 L254.6,499 L255.3,499.1 L255.8,499.2 L256.4,499.3 L257,499.5 L257.5,499.6 L258,499.9 L258.4,500.1 L258.9,500.4 L259.2,500.7 L259.6,501 L259.9,501.3 L260.1,501.6 L260.3,501.9 L260.4,502.3 L260.5,502.6 L260.5,503 L260.5,503.4 L260.4,503.7 L260.3,504.1 L260.1,504.4 L259.9,504.7 L259.6,505.1 L259.2,505.4 L258.9,505.7 Z"/>
<path class="k" d="M256.5,504.8 L256.3,505 L256,505.1 L255.6,505.2 L255.3,505.3 L254.9,505.4 L254.6,505.5 L254.2,505.5 L253.8,505.6 L253.4,505.6 L253.1,505.6 L252.7,505.5 L252.3,505.5 L251.9,505.4 L251.6,505.4 L251.2,505.3 L250.9,505.1 L250.6,505 L250.3,504.8 L250.1,504.7 L249.8,504.5 L249.6,504.3 L249.4,504.1 L249.3,503.9 L249.2,503.7 L249.1,503.5 L249,503.3 L249,503 L249,502.8 L249.1,502.6 L249.2,502.4 L249.3,502.2 L249.4,502 L249.6,501.8 L249.8,501.6 L250,501.4 L250.3,501.2 L250.6,501.1 L250.9,500.9 L251.2,500.8 L251.6,500.7 L251.9,500.6 L252.3,500.6 L252.7,500.5 L253,500.5 L253.4,500.5 L253.8,500.5 L254.2,500.5 L254.6,500.6 L254.9,500.6 L255.3,500.7 L255.6,500.8 L255.9,500.9 L256.3,501.1 L256.5,501.2 L256.8,501.4 L257,501.6 L257.2,501.7 L257.4,501.9 L257.6,502.1 L257.7,502.4 L257.8,502.6 L257.8,502.8 L257.8,503 L257.8,503.2 L257.8,503.5 L257.7,503.7 L257.6,503.9 L257.4,504.1 L257.2,504.3 L257,504.5 L256.8,504.7 Z"/>
<path class="k2" d="M254.8,503.8 L254.7,503.9 L254.6,504 L254.4,504 L254.3,504.1 L254.1,504.1 L253.9,504.1 L253.8,504.1 L253.6,504.2 L253.4,504.2 L253.3,504.2 L253.1,504.2 L252.9,504.1 L252.8,504.1 L252.6,504.1 L252.5,504 L252.3,504 L252.2,503.9 L252,503.8 L251.9,503.8 L251.8,503.7 L251.7,503.6 L251.7,503.5 L251.6,503.4 L251.5,503.3 L251.5,503.2 L251.5,503.1 L251.5,503 L251.5,502.9 L251.5,502.8 L251.5,502.7 L251.6,502.7 L251.7,502.6 L251.7,502.5 L251.8,502.4 L251.9,502.3 L252,502.2 L252.2,502.2 L252.3,502.1 L252.4,502.1 L252.6,502 L252.8,502 L252.9,501.9 L253.1,501.9 L253.3,501.9 L253.4,501.9 L253.6,501.9 L253.8,501.9 L253.9,501.9 L254.1,502 L254.3,502 L254.4,502 L254.5,502.1 L254.7,502.2 L254.8,502.2 L254.9,502.3 L255,502.4 L255.1,502.5 L255.2,502.5 L255.3,502.6 L255.3,502.7 L255.4,502.8 L255.4,502.9 L255.4,503 L255.4,503.1 L255.4,503.2 L255.3,503.3 L255.3,503.4 L255.2,503.5 L255.1,503.6 L255,503.7 L254.9,503.8 Z"/>
<path class="k2" d="M285.8,533.2 L293.3,536.4 L293.9,534.9 L302.5,542.3 L290,541.1 L291.9,538.5 L285.2,535.2 Z"/>
<path class="k" d="M384.9,503.6 L242.5,586.8"/>
<path class="k" d="M364.6,511.9 L252.4,577.5"/>
<path class="t" d="M354.3,516 L250.7,576.5"/>
<path class="k" d="M387.6,505.1 L243.3,589.3"/>
<path class="k" d="M308.9,534.9 L252.8,567.7 L230.3,566.8"/>
<path class="t" d="M306.3,533.4 L251.1,565.7 L230.3,564.8"/>
</g>

<!-- 26_floor_extra.svg -->
<g id="floorx">
<!-- tube from right wall down and along the front rail -->
<path d="M382,476.500 C372,482 360,489 354,494 C348,499 349,505 347.500,510 C346,518 343,522.500 338,525.500 L268,564 C263,567 259.500,566 257.500,561 L255,553" fill="none" stroke="#1c1c1c" stroke-width="3.600" stroke-linecap="round" stroke-linejoin="round"/>
<path d="M382,476.500 C372,482 360,489 354,494 C348,499 349,505 347.500,510 C346,518 343,522.500 338,525.500 L268,564 C263,567 259.500,566 257.500,561 L255,553" fill="none" stroke="#fff" stroke-width="1.800" stroke-linecap="round" stroke-linejoin="round"/>
<!-- pump / bracket on right front -->
<path class="k w" d="M353,498 L361,493.500 L366,497 L372,494 L376,497.500 L377,506 L371,512 L363,517.500 L357,519 L352,515 L354,508 Z"/>
<path class="k" d="M356,512 L360,507 L366,509 L370,504 M361,500 L364,503 L362,507 M368,497.500 L370,501 L374,500.500 M352,515 L349,520.500 L356,522 L363,517.500 M372,490 L375,486 L378.500,488 L378,493"/>
<path class="t" d="M376,484 l2,-3 l2,2 M379,497 l-1.500,5 M373,508 l3,2"/>
<!-- two-prong bracket -->
<path class="k w" d="M309.500,470 L311,462 L312.500,459.500 L314,460.500 L314.500,468 L316.500,471.500 L318.500,466 L320.500,463.500 L322,464.500 L322,472 L318,478 L313.500,476.500 Z"/>
<path class="k" d="M312.500,462.500 L313.500,471 M320.500,466.500 L320,474.500 M306,470.500 L309.500,473 L313.500,476.500"/>
<!-- front-left corner bracket with arc -->
<path class="k w" d="M249.500,528 L256.500,524 L266.500,528 L268.500,531.500 L262,536 L253,534 Z"/>
<path class="k" d="M254,527.500 L258.500,526 L262,528 L258.500,530.500 Z M252,531.500 L262,534"/>
<path d="M265.500,534.500 C266.500,546 260,553.500 247.500,555.500" fill="none" stroke="#1c1c1c" stroke-width="3.400"/>
<path d="M265.500,534.500 C266.500,546 260,553.500 247.500,555.500" fill="none" stroke="#fff" stroke-width="1.400"/>
<path class="k" d="M247,532 L250,536 M247,556.500 L252,553.500"/>
<!-- foot and marks near the front-left corner -->
<ellipse class="k" cx="251" cy="576.500" rx="3.200" ry="1.900" transform="rotate(-35 251 576.500)"/>
<ellipse class="t" cx="251" cy="576.500" rx="1.600" ry=".9" transform="rotate(-35 251 576.500)"/>
<path class="t" d="M248,581.500 l3,-1.500 M259,576 l2.500,-1.500 l0,2"/>
<!-- left inner flange ticks -->
<path class="k" d="M247.500,437 L247.500,584"/>
<path class="t" d="M245,444 l2.500,1 M245,470 l2.500,1 M245,500 l2.500,1 M245,520 l2.500,1 M245,560 l2.500,1 M245,575 l2.500,1"/>
<!-- back-left corner bits -->
<path class="k" d="M247.500,437.500 L251,436 L253,439 L258,438 M249,441 C251,446 254,448 259,449"/>
</g>

<!-- 30_cab_back.svg -->
<g id="cabBack">
<!-- top rear rail: top flange -->
<path class="w" d="M114.600,291 L130.700,281.200 L222,230 L232,237 L232,262 L160,306 L150,307 L137,294 Z" stroke="none"/>
<path class="k" d="M114.600,291 L130.700,281.200 L218,232"/>
<path class="t" d="M139.800,283.500 L226,234.400 M141,285.800 L227,236.600 M140.400,284.600 L226.500,235.500"/>
<path d="M140.400,284.600 L226.500,235.500" stroke="#999" stroke-width="1.6" fill="none"/>
<!-- corner bracket top face -->
<path class="t" d="M114.600,291 L120,294.200 L137,284.500 M120,294.200 L137,292.700 M124,288 L131,292 M128,285.500 L135,289.500 M121,290 l2,1 M126,287 l2,1"/>
<!-- lower bar -->
<path class="w" d="M155,296.500 L253,245 L253,253 L157,306 Z" stroke="none"/>
<path class="k" d="M155,296.500 L253,245 M153.600,301.300 L253,248.600"/>
<path class="t" d="M157,305.800 L253,252.800 M156,303.500 L253,250.700"/>
<path class="t" d="M184.300,288 l1.500,0.800 l0,1.200"/>
<circle cx="234.500" cy="260" r=".9" fill="#222"/>
<!-- gusset (left section of vertical face) -->
<path class="k w" d="M137,292.700 L147.900,285.800 L147.900,305.300 L140,296.500 Z"/>
<path class="k w" d="M147.900,285.800 L174.300,269.800 L174.300,284.700 L153.600,306.500 L150.500,307.200 L147.900,305.300 Z"/>
<path class="t" d="M141.500,298.500 l1.200,-3.500 l1.500,3.800 M139,296 C140,300 143,304 146,305"/>
<!-- rounded hole in gusset -->
<path class="t" d="M151.500,289 Q151.300,286.800 153.300,285.600 L157,283.400 Q158.600,282.300 159.600,283 L160.600,284.200 L160.600,290.500 L160,292.600 L158.800,293 L153,296.300 Q151.500,296.800 151.500,295 Z"/>
<!-- middle section -->
<path class="k" d="M174.300,269.800 L199.500,255.600 L199.500,270.300 L174.300,284.700"/>
<path class="t" d="M175.500,266.800 L177.500,265.700 L177.500,268 L175.500,269.100 Z M184.500,265.200 L189,262.700 M194.500,259.400 L196.500,258.300"/>
<!-- right section with slots -->
<path class="k" d="M199.500,255.600 L229,239 M199.500,270.300 C203,268 204,265.500 207.500,264 L231.600,250.300"/>
<path class="t" d="M203,253 L206.500,251 L206.500,253.200 L203,255.200 Z"/>
<ellipse class="k" cx="213.500" cy="250.800" rx="2.600" ry="1.200" transform="rotate(-30 213.500 250.800)" style="fill:#555"/>
<ellipse class="k" cx="213.800" cy="256.500" rx="2.300" ry="1.100" transform="rotate(-30 213.800 256.500)" style="fill:#555"/>
<path class="k" d="M222.500,244 L229.500,240 L229.500,246 L222.500,250 Z M224.500,244.700 L227.800,242.800 L227.800,246.300 L224.500,248.200 Z" style="stroke-width:1.4"/>
<!-- back right corner bracket under top panel -->
<path class="k w" d="M237.700,238 L253,233.400 L253,246 L237.700,250.500 Z"/>
<path class="t" d="M242,239 L247,237.500 L247,240.500 L242,242 Z M237.700,243 L253,238.500"/>
<path class="k" d="M232,237 L237.700,238 M232,250 L237.700,250.500 M233.500,238 L233.500,250 M235.500,238 L235.500,250"/>
</g>

<!-- 40_cab_left.svg -->
<g id="cabL">
<path class="k w" d="M114.2,292 L242,365.5 L242.4,589.6 L113.8,515.4 Z"/>
<path class="t" d="M114,293.6 L242,367.2"/>
<path class="t" d="M203.3,454.9 L203.2,457.4 L202.9,459.7 L202.4,461.8 L201.8,463.9 L201,465.7 L199.9,467.3 L198.8,468.8 L197.5,470 L196,471 L194.4,471.8 L192.7,472.3 L190.8,472.6 L188.9,472.7 L186.9,472.5 L184.8,472 L182.7,471.3 L180.6,470.4 L178.4,469.3 L176.2,467.9 L174.1,466.4 L172,464.6 L169.9,462.7 L167.9,460.6 L166,458.3 L164.1,455.9 L162.4,453.4 L160.8,450.8 L159.3,448.1 L158,445.3 L156.9,442.6 L155.8,439.8 L155,437 L154.4,434.2 L153.9,431.5 L153.6,428.8 L153.5,426.3 L153.6,423.8 L153.9,421.5 L154.4,419.4 L155,417.3 L155.8,415.5 L156.9,413.9 L158,412.4 L159.3,411.2 L160.8,410.2 L162.4,409.4 L164.1,408.9 L166,408.6 L167.9,408.5 L169.9,408.7 L172,409.2 L174.1,409.9 L176.2,410.8 L178.4,411.9 L180.6,413.3 L182.7,414.8 L184.8,416.6 L186.9,418.5 L188.9,420.6 L190.8,422.9 L192.7,425.3 L194.4,427.8 L196,430.4 L197.5,433.1 L198.8,435.9 L199.9,438.6 L201,441.4 L201.8,444.2 L202.4,447 L202.9,449.7 L203.2,452.4 Z"/>
<path class="t" d="M214.6,461.4 L214.4,464.9 L214,468.3 L213.3,471.5 L212.4,474.4 L211.2,477.1 L209.7,479.5 L208,481.5 L206.1,483.3 L204,484.8 L201.6,485.9 L199.1,486.7 L196.5,487.1 L193.7,487.2 L190.8,486.9 L187.8,486.3 L184.7,485.3 L181.6,484 L178.4,482.3 L175.2,480.3 L172.1,478.1 L169,475.5 L166,472.7 L163.1,469.6 L160.3,466.3 L157.7,462.8 L155.2,459.2 L152.8,455.4 L150.7,451.5 L148.8,447.5 L147.1,443.4 L145.6,439.4 L144.4,435.3 L143.5,431.3 L142.8,427.4 L142.4,423.5 L142.2,419.8 L142.4,416.3 L142.8,412.9 L143.5,409.7 L144.4,406.8 L145.6,404.1 L147.1,401.7 L148.8,399.7 L150.7,397.9 L152.8,396.4 L155.2,395.3 L157.7,394.5 L160.3,394.1 L163.1,394 L166,394.3 L169,394.9 L172.1,395.9 L175.2,397.2 L178.4,398.9 L181.6,400.9 L184.7,403.1 L187.8,405.7 L190.8,408.5 L193.7,411.6 L196.5,414.9 L199.1,418.4 L201.6,422 L204,425.8 L206.1,429.7 L208,433.7 L209.7,437.8 L211.2,441.8 L212.4,445.9 L213.3,449.9 L214,453.8 L214.4,457.7 Z"/>
<path class="t" d="M225.7,467.8 L225.6,472.5 L225,476.9 L224.1,481 L222.9,484.9 L221.3,488.3 L219.4,491.5 L217.2,494.2 L214.7,496.5 L211.9,498.5 L208.8,499.9 L205.6,500.9 L202.1,501.5 L198.4,501.6 L194.6,501.2 L190.7,500.4 L186.6,499.1 L182.5,497.4 L178.4,495.2 L174.3,492.6 L170.2,489.6 L166.1,486.3 L162.2,482.6 L158.4,478.6 L154.7,474.3 L151.2,469.7 L148,464.9 L144.9,460 L142.1,454.8 L139.6,449.6 L137.4,444.3 L135.5,439 L133.9,433.7 L132.7,428.4 L131.8,423.3 L131.2,418.2 L131.1,413.4 L131.2,408.7 L131.8,404.3 L132.7,400.2 L133.9,396.3 L135.5,392.9 L137.4,389.7 L139.6,387 L142.1,384.7 L144.9,382.7 L148,381.3 L151.2,380.3 L154.7,379.7 L158.4,379.6 L162.2,380 L166.1,380.8 L170.2,382.1 L174.3,383.8 L178.4,386 L182.5,388.6 L186.6,391.6 L190.7,394.9 L194.6,398.6 L198.4,402.6 L202.1,406.9 L205.6,411.5 L208.8,416.3 L211.9,421.2 L214.7,426.4 L217.2,431.6 L219.4,436.9 L221.3,442.2 L222.9,447.5 L224.1,452.8 L225,457.9 L225.6,463 Z"/>
<path class="t" d="M236.9,474.2 L236.7,480 L236,485.5 L234.9,490.6 L233.4,495.3 L231.4,499.6 L229.1,503.5 L226.3,506.9 L223.2,509.8 L219.8,512.1 L216,513.9 L212,515.2 L207.7,515.9 L203.1,516 L198.4,515.5 L193.5,514.5 L188.6,512.9 L183.5,510.8 L178.4,508.1 L173.3,504.9 L168.2,501.2 L163.3,497.1 L158.4,492.5 L153.7,487.6 L149.1,482.2 L144.8,476.6 L140.8,470.7 L137,464.5 L133.6,458.2 L130.5,451.8 L127.7,445.2 L125.4,438.6 L123.4,432.1 L121.9,425.6 L120.8,419.2 L120.1,413 L119.9,407 L120.1,401.2 L120.8,395.7 L121.9,390.6 L123.4,385.9 L125.4,381.6 L127.7,377.7 L130.5,374.3 L133.6,371.4 L137,369.1 L140.8,367.3 L144.8,366 L149.1,365.3 L153.7,365.2 L158.4,365.7 L163.3,366.7 L168.2,368.3 L173.3,370.4 L178.4,373.1 L183.5,376.3 L188.6,380 L193.5,384.1 L198.4,388.7 L203.1,393.6 L207.7,399 L212,404.6 L216,410.5 L219.8,416.7 L223.2,423 L226.3,429.4 L229.1,436 L231.4,442.6 L233.4,449.1 L234.9,455.6 L236,462 L236.7,468.2 Z"/>
<path class="t" d="M131.3,331.4 L137.9,330.6 L144.8,330.7 L152,331.7 L159.4,333.6 L166.9,336.4 L174.6,340 L182.2,344.4 L189.9,349.6 L197.4,355.5 L204.8,362.1 L212,369.4 L218.9,377.2 L225.5,385.6 L227.1,388.2 L227.9,391.1 L228,393.6 L227.1,395.5 L225.6,396.4 L223.5,396.2 L221.3,395 L219.3,392.8 L213.6,385.6 L207.6,378.8 L201.4,372.5 L194.9,366.8 L188.4,361.6 L181.7,357.1 L175.1,353.3 L168.4,350.1 L161.9,347.7 L155.4,346.1 L149.2,345.2 L143.2,345.1 L137.5,345.8 L135.5,345.6 L133.3,344.3 L131.2,342.1 L129.7,339.5 L128.8,336.6 L128.9,334.1 L129.7,332.2 Z"/>
<path class="t" d="M225.5,549.8 L218.9,550.6 L212,550.5 L204.8,549.5 L197.4,547.6 L189.9,544.8 L182.2,541.2 L174.6,536.8 L166.9,531.6 L159.4,525.7 L152,519.1 L144.8,511.8 L137.9,504 L131.3,495.6 L129.7,493 L128.9,490.1 L128.8,487.6 L129.7,485.7 L131.2,484.8 L133.3,485 L135.5,486.2 L137.5,488.4 L143.2,495.6 L149.2,502.4 L155.4,508.7 L161.9,514.4 L168.4,519.6 L175.1,524.1 L181.7,527.9 L188.4,531.1 L194.9,533.5 L201.4,535.1 L207.6,536 L213.6,536.1 L219.3,535.4 L221.3,535.6 L223.5,536.9 L225.6,539.1 L227.1,541.7 L228,544.6 L227.9,547.1 L227.1,549 Z"/>
<path class="w" d="M242,366 L247.6,363 L247.6,586.5 L242.4,589.6 Z"/>
<path class="k" d="M247.6,366 L247.6,586.5"/>
<path class="t" d="M244.3,367 L244.3,588.5"/>
<path class="t" d="M244.3,375 l3.3,0 M244.3,386 l3.3,1 M245.500,392 l0,8 M244.3,412 l3.3,0 M244.3,418 l3.3,0 M245.800,425 l0,6 M244.3,452 l3.3,0 M244.3,470 l3.3,1 M245.800,480 l0,8 M244.3,505 l3.3,0 M244.3,512 l3.3,0 M245.800,530 l0,7 M244.3,548 l3.3,0 M244.3,566 l3.3,1 M245.800,572 l0,6"/>
<path class="k w" d="M228,352.3 L236,348.500 L249,350.9 L254.9,354.5 L245.4,363.2 L242,365.5 Z"/>
<path class="t" d="M234,353 L240,354.200 L238.500,356 L232.500,354.800 Z M241,351.500 l5,1 M246,358 l3,-2.500"/>
<path class="t" d="M146,310.5 l3,-1.2 l2,1.200 M166,322 l2.5,-1 l2,1.200 M186,333.5 l3,-1.200 l2,1.200 M206,345 l3,-1.200 l2,1.200 M131,302.500 l1.5,0.8 M137,306 l1.5,0.8 M176,328.500 l1.500,0.8 M196,340 l1.500,0.8 M216,351.500 l1.500,0.8"/>
</g>

<!-- 45_brace0207.svg -->
<g id="p0207">
<!-- main bar body -->
<path class="k w" d="M264.300,371.800 L268.500,369.600 L275.400,370 L290,362 L404.600,296.200 L406.800,290.300 L409,288.800 L414,290.600 L417,294.500 L421,295.500 L423.800,298.500 L423.300,302.500 L421.500,303.500 L278.500,381.500 L276,380.500 L270,377.800 L265,375.200 Z"/>
<!-- top-front edge -->
<path class="k" d="M281,377.300 L419.500,299.300"/>
<!-- inner raised channel on top face -->
<path class="t" d="M293,369.500 L306,362 L309.500,363.500 L318,358.500 L320.500,351.500 L404,303.500 L405.500,305.500 L335,346.500 L329,347 L326,350.500 L322,350.500 L295,366 Z"/>
<path class="t" d="M320.500,351.500 L324,353 L329,347"/>
<path class="k" d="M296.500,373.500 L333,353 M339,349.500 L365,334.700 M371,331.300 L409,309.600"/>
<!-- dark little marks (clips) on front edge -->
<path d="M291,376 l3.500,-2 l0,1.600 l-3.500,2 Z M349.500,341.500 l4,-2.300 l0,2.200 l-4,2.300 Z M363.500,333.500 l3.500,-2 l0,1.600 l-3.500,2 Z M389,319 l3.500,-2 l0,1.600 l-3.500,2 Z M409.500,306.500 l4.500,-2.600 l0,1.600 l-4.500,2.600 Z" fill="#222" stroke="none"/>
<circle cx="281.500" cy="370.800" r=".9" fill="#222"/><circle cx="364" cy="324" r=".8" fill="#222"/><circle cx="407.500" cy="298.500" r=".9" fill="#222"/>
<!-- left tab details and hook -->
<path class="k" d="M270,377.800 L275,376 L281,377.300 M276.500,381 L277,384.500 L279,386 L279.800,383 M278,382 L280.500,381"/>
<!-- right tab details -->
<path class="k" d="M404.600,296.200 L409.500,298.500 L417,294.500 M414,290.600 L414,293.500 M421,295.500 L420.500,300 L423.300,302.500 M417.500,297 L417.500,301"/>
<!-- leaders -->
<path class="ld" d="M430.800,275.400 L387.700,280.800 M430.800,275.400 L420.800,295.400"/>
</g>

<!-- 46_axes_over.svg -->
<g id="axes2">
<path class="ld" d="M464.900,221.700 L304.200,310.600" style="stroke-dasharray:43 4.5 4 4.5;stroke-dashoffset:38"/>
<path class="ld" d="M304.200,310.600 L287.100,303.800"/>
<path class="ld" d="M366,437.600 L440,396.400" style="stroke-dasharray:43 4.5 4 4.5;stroke-dashoffset:14"/>
<path class="ld" d="M366,437.600 L244.500,373.700" style="stroke-dasharray:43 4.5 4 4.5;stroke-dashoffset:20"/>
</g>

<!-- 50_top0201.svg -->
<g id="p0201">
<!-- side skirt -->
<path class="w" d="M105.3,161 L105.3,169.8 L231.3,241 L379.5,158.5 L379.5,147.5 L253.9,75.2 Z" stroke="none"/>
<path class="k2" d="M105.3,161 L105.3,169.8 L231.3,241"/>
<path class="k" d="M231.3,241 L377.3,159.6"/>
<!-- top face -->
<path class="k" d="M231.300,232.600 L105.300,161"/><path class="k2" d="M105.300,161 L253.9,75.200 L379.500,147.500 L379.500,158.300 L377.300,159.600 L377.300,156"/>
<path class="k" d="M231.300,232.600 L231.300,241"/>
<!-- inner inset -->
<path class="t" d="M251.500,82.700 Q253.900,81.300 256.300,82.700 L364,143.600 Q366.500,145 364,146.400 L231,223.800 Q228.300,225.400 225.600,223.800 L118.500,162.800 Q116,161.300 118.500,159.800 Z"/>
<!-- front-right trim strip -->
<path d="M231.300,232.900 L379,147.900 L379,150.700 L231.300,235.800 Z" fill="#a8a8a8" stroke="none"/>
<path class="t" d="M231.500,237.600 L377.300,154 M231.500,238.700 L377.300,155.100"/>
<!-- small tab under left corner -->
<path class="k" d="M112.800,174 L114,179.300 L116.300,179.600 L118.300,177"/>
</g>

<!-- 60_p0214.svg -->
<g id="p0214">
<!-- body outline -->
<path class="k w" d="M517.500,192 L518.300,186 L520.500,183 L523,184 L525,188 L524.800,200 L523,201 L523,207 L522.800,290 L524,298 L528,306 L536,313.500 L544.400,319.500 L544.400,332 L539,334.500 L530,331 L523,326 L516,320 L510.500,312 L508,303 L507.400,291 L507.400,212 L509,208.500 L517.500,205.500 Z"/>
<path d="M517.700,200 L522.800,200 L522.800,290 C523,297 525,302 528,306 L524,309 C520,304 518,298 517.700,290 Z" fill="#c4c4c4" stroke="none"/>
<!-- top piece details -->
<path class="k" d="M519.500,188 L519.500,205 M523.500,189 L523.500,200 M518.300,200.500 L524.500,200.500"/><path d="M519.300,185.500 L520.500,183 L522.500,183.500 L523,186 L526,186.500 L525.500,188.500 L519,188.800 Z" fill="#333" stroke="#222" stroke-width=".8"/><path d="M519.500,190 L523.500,190 L523.500,199 L519.500,199 Z" fill="#aaa" stroke="none"/>
<!-- inner verticals -->
<path class="k" d="M517.700,206 L517.700,290 C518,298 521,304 527,309.500 L539,318.500"/>
<path class="t" d="M511.500,212 L511.500,292 C512,301 515,309 521,315 L533,324 L540,328.500 M514.500,210 L514.500,225 M520,206 L520,288"/>
<!-- clips -->
<g class="k">
<path class="w" d="M522.8,201.8 L525,201.3 L530.8,204.9 L530.8,211.2 L525,208.8 L522.8,208.3 Z"/>
<path d="M526.6,204.6 L529.6,206.4 L529.6,210.0 L526.6,208.5 Z"/>
<path class="w" d="M522.8,228.8 L525,228.3 L530.8,231.9 L530.8,238.2 L525,235.8 L522.8,235.3 Z"/>
<path d="M526.6,231.6 L529.6,233.4 L529.6,237.0 L526.6,235.5 Z"/>
<path class="w" d="M522.8,257.3 L525,256.8 L530.8,260.4 L530.8,266.7 L525,264.3 L522.8,263.8 Z"/>
<path d="M526.6,260.1 L529.6,261.9 L529.6,265.5 L526.6,264.0 Z"/>
<path class="w" d="M522.8,285.8 L525,285.3 L530.8,288.9 L530.8,295.2 L525,292.8 L522.8,292.3 Z"/>
<path d="M526.6,288.6 L529.6,290.4 L529.6,294.0 L526.6,292.5 Z"/>
</g>
<!-- left notches -->
<path class="k" d="M507.400,222 L509.500,222 L509.500,227 L507.400,227 M511.500,229 L516,228 L516,236 L511.500,237 M507.400,242 L510,243.500 L510,249.500 L507.400,249 M511.500,252 L516,251 L516,263 L511.500,264 M511.500,276 L516,275 L516,285 L511.500,286 M507.400,268 L510,269.500 L510,276 L507.400,275.500"/>
<path class="t" d="M509.500,214 L509.500,221 M513.500,238 L513.500,250 M513.500,265 L513.500,274"/>
<!-- bottom foot details -->
<path class="k" d="M539,318.500 L544.400,319.500 M539,318.500 L539,334.500 M530,331 L530,322 M523,326 L524,318 M516,320 L518.500,313"/>
<path class="k" d="M508,303 L506.500,306 L507.500,311 L510.500,312 M513,318.500 L512.500,323 L515.500,325 L517.500,322 M509.500,296 L513,297.500 L514.500,302"/>
<path class="t" d="M526,312 L536,320 M527,316 L535,323 M510,300 L513,306 L516,308"/>
</g>

<!-- 61_p0203.svg -->
<g id="grp0203">
<!-- 0203 module -->
<g id="p0203">
<path class="k w" d="M642.500,205.800 L659.200,196.800 L663.300,198.200 L666,200.300 L672,201.500 L676,199.500 L688,202 L692.500,203.800 L693,206.500 L691.100,209 L691.100,243 L692,246 L691.100,269.700 L686,271.500 L648,262.800 L642.500,260.700 Z"/>
<path class="k" d="M642.500,205.800 L646,207.500 L646,261.500 M646,207.500 L661,199.500 M648.500,209 L648.500,262 M651,210.300 L651,259.500 L648.500,259 M651,210.300 L668,206.500 L672,207.500 L672,240 M646,207.500 L651,210.300"/>
<path class="t" d="M644.200,207 L644.200,261 M649.700,211 L649.700,258"/>
<!-- horizontal connector on left -->
<path class="k w" d="M642.500,236.500 L646,235 L655.500,237 L656.500,238.200 L656.500,240.500 L655.500,241.800 L646,240.300 L642.500,241.500 Z"/>
<path class="k" d="M646,235 L646,240.300 M651.500,236.300 L651.500,241"/>
<!-- L mark, circles -->
<path class="k" d="M659.500,212 L659.500,217.500 L663.500,218.500 M660.500,212.200 L660.500,216.700 L663.500,217.500"/>
<ellipse class="k" cx="655.500" cy="226.500" rx="2" ry="2.300"/>
<path class="t" d="M655,225 l1.500,0.300 l0,2.500"/>
<circle class="k" cx="662" cy="238.500" r="1.300"/>
<path class="t" d="M663.300,238.700 L669,240"/>
<!-- small boxes center -->
<path class="k" d="M666.500,219 L670,217.500 L673,218.500 L673,222.500 L669.500,224 L666.500,223 Z M666.500,230 L670,228.500 L672,229.300 L672,234 L669,235 L666.500,234 Z"/>
<path class="t" d="M669.500,220 l2,0.500 M668,231.500 l2.500,0.600"/>
<!-- right connector column -->
<path class="k" d="M672,207.500 L679,203.500 L691.100,206.500 M679,203.500 L679,211 M672,211.500 L684,208 L691.100,209.500 M684,208 L684,238.500 L672,243.500 M678,212 L678,240.500"/>
<path class="t" d="M679,214 l4.500,-1.200 M679,216.500 l4.500,-1.200 M679,219 l4.500,-1.200 M679,221.500 l4.500,-1.200 M679,224 l4.500,-1.200 M679,226.500 l4.500,-1.200 M679,229 l4.500,-1.200 M679,231.500 l4.500,-1.200 M679,234 l4.500,-1.200 M679,236.500 l4.500,-1.200 M680.500,213 l0,24.500 M682,212.600 l0,24.500"/>
<path class="k" d="M670,200.500 L670,204.500 L676,203.500 L676,199.500 M686,202.500 L686,206 M688.500,204.300 L688.500,208.500"/>
<!-- lower right section -->
<path class="k" d="M672,243.500 L670.500,246 L670.500,255 L675,257.500 L675,266 M675,257.500 L679,255 L679,243 L684,241 M684,238.500 L687.500,238 L687.500,244 L691.100,243 M679,250 L687,248.500 L687,262 L680,264 L680,252.500 M682,252 L685.500,251.300 L685.500,259 L682,259.800 Z"/>
<path class="t" d="M681,265.500 L681,270 M685,266 L690,264.500 M688,248 l0,14 M689.500,247 l0,10"/>
<!-- lower center box -->
<path class="k" d="M662.500,260 L662.500,263.500 L669.500,265.500 L669.500,262 M664,260.500 L664,256 L666.500,254.500 L671,255.500 L671,262 M665.500,259 L669,259.800 L669,263.500 L665.500,262.700 Z M666.500,254.500 L666.500,252 L668,251.500"/>
<!-- bottom tabs -->
<path class="k" d="M647.500,264 L647.500,268 L649,270.500 L652.500,271.500 L652.500,266.500 M648.500,266.500 l3,0.800 M648.500,268.500 l3,0.800"/>
<path class="k" d="M657.500,267 L656,275.500 L653,278.500 L656,280 L663.500,281.500 L663,277.500 L662,269 M659,269 L658.500,277 L661,277.500"/>
<path class="k" d="M671,269.500 L670.500,280 L672.500,282.500 L675.500,280.500 L675.500,271 M672.500,272 l0,8 M677.500,271 L677.500,277 L679,277.500 L679,272"/>
</g>
<!-- 0204 pcb -->
<g id="p0204">
<path class="k w" d="M703.600,183 L730.700,188.500 L732,236.400 L733.500,237.700 L733.500,248.200 L702.200,240.600 L699,238 L699,221 L701,218.500 L703.600,217.500 Z"/>
<path class="t" d="M705,184.800 L705,216"/>
<!-- components -->
<g class="k">
<path class="w" d="M710,194 L712.500,191.500 L717,192.500 L717,198.500 L714,200 L710,199 Z"/>
<path class="w" d="M714.500,191 L717,188.500 L722.500,189.800 L722.500,195.500 L720,197 L717,196.300 L717,192.500 Z"/>
<path class="w" d="M720,190 L722,188.200 L726.500,189.200 L726.500,194 L724.500,195.500 L722.500,195 Z"/>
<path class="w" d="M715,199.500 L718,197.500 L723,198.700 L723,204.300 L720,206 L715,204.800 Z"/>
<path class="w" d="M706,207 L708.500,205 L713.500,206.200 L713.500,213.500 L710.500,215 L706,214 Z"/>
<path class="w" d="M709,214.500 L712,213 L716,214 L716,222.500 L713,224 L709,223 Z"/>
<path class="w" d="M719.500,210.500 L721,209.500 L723.500,210 L723.500,219.500 L722,220.500 L719.500,220 Z"/>
<path class="w" d="M699,222 L702,220 L706,221 L706,236 L703,237.500 L699,236.500 Z"/>
<path class="w" d="M704.500,230 L707.500,228.500 L712,229.500 L712,238 L709,239.500 L704.500,238.500 Z"/>
<path class="w" d="M711.500,232.500 L714,231 L718.500,232 L718.500,237 L716,238.500 L711.500,237.500 Z"/>
<path class="w" d="M716.500,236.500 L719.500,235 L724.500,236.200 L724.500,242.500 L721.500,244 L716.500,242.800 Z"/>
<path class="w" d="M723.500,240.500 L726,239.300 L729.500,240 L729.500,244.500 L727,245.700 L723.500,245 Z"/>
<path d="M712.500,191.500 L712.500,197 M717,188.500 L717,192 M718,197.500 L718,203 M708.500,205 L708.500,212 M712,213 L712,221 M702,220 L702,235 M707.500,228.500 L707.500,237 M719.500,235 L719.500,241.500"/>
</g>
<path class="t" d="M704,224 l3,-2 M704,227 l3,-2 M713,226 l4,1 M714,229 l5,1.200 M721,224 l0,5 M726,232 l3,0.800 M709,241 l5,1.200 M725,246 l5,1.200"/>
<circle class="t" cx="713.500" cy="234.500" r="1.300"/>
</g>
<!-- 0205 -->
<g id="p0205">
<path class="k w" d="M698.800,273.200 L708.500,271.800 L708.500,291.300 L699,295.400 Z"/>
<path class="t" d="M700.500,275 L707,274 L707,290.500 L700.500,293.300 Z M700.500,288 L707,285.500"/>
<path class="k" d="M698.800,273.200 L698,270.500 L700,268.500 L704.500,269.500 L706,272 M700,270.500 L704,271.500" />
<path d="M699,269.500 l3.500,0.800 l0,1.500 l-3.500,-0.800 Z" fill="#222"/>
</g>
<!-- axis intersection marks -->
<path class="ld" d="M635.500,274.500 L652,284 "/>
</g>

<!-- 62_p0240.svg -->
<g id="grp0240">
<defs>
<g id="screw">
 <ellipse cx="0" cy="0" rx="2.300" ry="3.100" transform="rotate(-30)" fill="#fff" stroke="#111" stroke-width="1.700"/>
 <path d="M1.500,1 L11.500,6.700" fill="none" stroke="#1c1c1c" stroke-width="3.100"/>
 <path d="M1.800,1.200 L11,6.400" fill="none" stroke="#fff" stroke-width="1.200"/>
 <path d="M11,6.400 L17.500,10.100" fill="none" stroke="#333" stroke-width="2.700"/><path d="M11,6.400 L17.500,10.100" fill="none" stroke="#000" stroke-width="2.700" stroke-dasharray="0.700 0.700"/>
 <path d="M17.500,10.100 L19.300,11.200" fill="none" stroke="#222" stroke-width="1.200"/>
</g>
<g id="sleeveA">
 <!-- ribbed cylinder centred at 0,0, axis down-right -->
 <path d="M-5.500,-5.500 L3,-1 C6.500,0.500 7.500,5 4.500,7 L-4,2.500 C-8,0 -8.500,-4 -5.500,-5.500 Z" fill="#fff" stroke="#1c1c1c" stroke-width="1.25" stroke-linejoin="round"/>
 <ellipse cx="3.800" cy="3" rx="3" ry="4.200" transform="rotate(-28 3.800 3)" fill="#fff" stroke="#1c1c1c" stroke-width="1.25"/>
 <ellipse cx="3.800" cy="3" rx="1.200" ry="1.800" transform="rotate(-28 3.800 3)" fill="none" stroke="#333" stroke-width=".8"/>
 <path d="M-6,-2.500 L1,1.200 M-5.500,0 L0.500,3.300 M-2.500,-4 L-3.500,1.800 M0.500,-2.300 L-0.500,3.800" fill="none" stroke="#1c1c1c" stroke-width="1.25"/>
 <path d="M-5,-4.500 L1.500,-1 M-6.300,-1 L-1,2" fill="none" stroke="#666" stroke-width="1.200"/>
</g>
<g id="sleeveB">
 <path d="M-5.500,-5.500 L3.500,-1.500 C7,0 8,4.500 5,6.500 L-1,3.500 L-2,6 L-6.500,3.500 L-5.500,0.500 C-8,-1.500 -8,-4.500 -5.500,-5.500 Z" fill="#fff" stroke="#1c1c1c" stroke-width="1.25" stroke-linejoin="round"/>
 <ellipse cx="4.200" cy="2.600" rx="3" ry="4.200" transform="rotate(-28 4.200 2.600)" fill="#fff" stroke="#1c1c1c" stroke-width="1.25"/>
 <ellipse cx="4.200" cy="2.600" rx="1.200" ry="1.800" transform="rotate(-28 4.200 2.600)" fill="none" stroke="#333" stroke-width=".8"/>
 <path d="M-5.500,0.500 L-1,3.500 M-4.500,-2.500 L2,0.800 M-2,-4 L-3,1.500" fill="none" stroke="#1c1c1c" stroke-width="1.25"/>
 <path d="M-5,-4.300 L2,-1 " fill="none" stroke="#666" stroke-width="1.200"/>
</g>
<g id="clampA">
 <!-- ring at (0,0), body at (-13,17) -->
 <ellipse cx="1.500" cy="2.500" rx="5" ry="5.300" fill="#fff" stroke="#1c1c1c" stroke-width="1.1"/>
 <path d="M-3.500,2.500 L-3.500,-1 M6.500,2.500 L6.500,-0.500" stroke="#1c1c1c" stroke-width="1.1" fill="none"/>
 <ellipse cx="-1" cy="-1.500" rx="3.600" ry="3.800" fill="#fff" stroke="#1c1c1c" stroke-width="1.1"/>
 <path d="M-3.500,-3 L1.500,-0.500 M-4,-1 L1,1.500" stroke="#1c1c1c" stroke-width=".95" fill="none"/>
 <path d="M-4,2 L-10,10.500 M-2.500,3.300 L-8.500,11.500" stroke="#1c1c1c" stroke-width="1.1" fill="none"/>
 <path d="M-14.500,10.500 L-9.500,8.500 L-6.500,11 L-6,17.500 L-7.500,22 L-11,23.500 L-14,22 L-17,17 L-17,13 Z" fill="#fff" stroke="#1c1c1c" stroke-width="1.25" stroke-linejoin="round"/>
 <path d="M-14.500,10.500 L-12,13 L-8,12 M-12,13 L-11,21 M-16,15 L-12.500,17 M-15,19 L-12,20.500 M-9.500,16 L-7,17" stroke="#1c1c1c" stroke-width=".95" fill="none"/>
</g>
<g id="clampB">
 <!-- cup at (0,0), clip at (17,0) -->
 <path d="M-5.500,-3 L-5.500,3.500 C-5.500,7 5,6 5,2 L5,-4" fill="#fff" stroke="#1c1c1c" stroke-width="1.1"/>
 <ellipse cx="-0.250" cy="-3.500" rx="5.300" ry="3" transform="rotate(-8 -0.250 -3.500)" fill="#fff" stroke="#1c1c1c" stroke-width="1.1"/>
 <path d="M5,-3 L12,-1.500 M5,-1.500 L11.500,0" stroke="#1c1c1c" stroke-width=".95" fill="none"/>
 <path d="M17.500,-10.500 C20.500,-12.500 23.500,-10.500 23,-7.500 L19,7 C18,10.500 15.500,12 13.500,10.500 C11.500,9 11.500,6.500 12,4 L15,-6.500 C15.500,-8.500 16.500,-9.800 17.500,-10.500 Z" fill="#fff" stroke="#1c1c1c" stroke-width="1.25" stroke-linejoin="round"/>
 <path d="M18.500,-8 L14.500,6.500 M21,-7 L17,7.500 M17.500,-10.500 L20.500,-8.500 M13,8 L16,10" stroke="#1c1c1c" stroke-width=".95" fill="none"/>
 <ellipse cx="21" cy="-9.300" rx="1.300" ry="1" fill="none" stroke="#1c1c1c" stroke-width=".8"/>
</g>
</defs>
<use href="#screw" x="955.500" y="181"/><use href="#sleeveA" x="984" y="197.500"/>
<use href="#screw" x="947.200" y="220.200"/><use href="#sleeveB" x="974.500" y="236.200"/>
<use href="#screw" x="946.500" y="261.700"/><use href="#sleeveA" x="975.400" y="278.500"/>
<use href="#screw" x="936.800" y="293.900"/><use href="#sleeveB" x="968.500" y="312.500"/>
<use href="#clampA" x="1059.600" y="178"/>
<use href="#clampB" x="1026.800" y="237"/>
<use href="#clampA" x="1053.200" y="267.500"/>
<use href="#clampB" x="1037.100" y="314"/>
<!-- label brackets -->
<path class="ld" d="M960,364.300 L970,364.300 L970,345.500 M1040,362.300 L1052.900,362.300 L1052.900,343" style="stroke-width:.8"/>
</g>

<!-- 65_front0215.svg -->
<g id="p0215">
<path class="w" d="M560.9,486 L561.6,485.5 L687,413.8 L697.8,418.8 L698.1,594.1 Q640,640 566.1,671 L560.3,665.3 Z"/>
<path class="k w" d="M566.1,492.8 L697.8,418.8 L698.1,594.1 C688,604 672,615 664.8,619.4 C650,629 632,640 618.9,646.9 C600,656.500 582,664.500 566.1,671 Z"/>
<path class="k2" d="M560.6,486.500 L560.3,665.3 L566.1,671"/>
<path class="t" d="M563.6,489 L563.8,668.500"/>
<path class="k" d="M560.6,486.500 L561.6,485 L687,413.3 L690,412 L691.500,414.500 L694,414 L697.8,418.8"/>
<path class="t" d="M563.5,489 L692.5,415.5"/>
<path class="k" d="M561.6,485 L561.2,480.500 L562.500,479.500 L563.500,484"/>
<path class="k" d="M687,413.3 L687.500,410.500 L689,411.500 L690,412 M692,411 L693,414"/>
<path class="t" d="M593,471.500 L597,469.200 L598.500,470.500 L594.500,472.800 Z M607.500,459 L608.500,457.500 L610,458.700 M613,457.300 L620.500,464 M641.500,443.500 l1.500,1.500 M662,431.500 l1.500,1.500"/>
<circle cx="645.5" cy="445.5" r=".7" fill="#333"/><circle cx="656.5" cy="439" r=".7" fill="#333"/><path class="k" d="M687.4,489.6 L687.2,495 L686.6,500.6 L685.6,506.4 L684.2,512.3 L682.4,518.2 L680.2,524.2 L677.7,530.1 L674.9,535.9 L671.7,541.6 L668.3,547.1 L664.6,552.5 L660.7,557.5 L656.6,562.3 L652.3,566.8 L647.8,570.9 L643.3,574.6 L638.7,577.9 L634,580.7 L629.3,583.1 L624.7,585 L620.2,586.4 L615.7,587.3 L611.4,587.6 L607.3,587.5 L603.4,586.8 L599.7,585.6 L596.3,583.9 L593.1,581.8 L590.3,579.1 L587.8,576 L585.6,572.5 L583.8,568.6 L582.4,564.3 L581.4,559.6 L580.8,554.7 L580.6,549.4 L580.8,544 L581.4,538.4 L582.4,532.6 L583.8,526.7 L585.6,520.8 L587.8,514.8 L590.3,508.9 L593.1,503.1 L596.3,497.4 L599.7,491.9 L603.4,486.5 L607.3,481.5 L611.4,476.7 L615.7,472.2 L620.2,468.1 L624.7,464.4 L629.3,461.1 L634,458.3 L638.7,455.9 L643.3,454 L647.8,452.6 L652.3,451.7 L656.6,451.4 L660.7,451.5 L664.6,452.2 L668.3,453.4 L671.7,455.1 L674.9,457.2 L677.7,459.9 L680.2,463 L682.4,466.5 L684.2,470.4 L685.6,474.7 L686.6,479.4 L687.2,484.3 Z"/>
<path class="t" d="M659.6,560.8 L655.5,565.7 L651.1,570.2 L646.6,574.3 L642.1,578 L637.4,581.4 L632.7,584.2 L628,586.6 L623.3,588.5 L618.7,590 L614.3,590.8 L609.9,591.2 L605.7,591.1 L601.8,590.4 L598,589.2 L594.6,587.5 L591.4,585.3 L588.5,582.7 L586,579.5 L583.8,576 L582,572 L580.6,567.6 L579.6,562.9 L579,557.9 L578.8,552.7 L579,547.2 L579.6,541.5 L580.6,535.6 L582,529.7 L583.8,523.7 L586,517.7 L588.5,511.8 L591.4,505.9 L594.6,500.1 L598,494.5 L601.8,489.2 L605.7,484 L609.9,479.2 L614.3,474.7"/>
<path class="k" d="M668.4,494.7 L668.3,498.6 L667.9,502.6 L667.1,506.7 L666.1,510.9 L664.9,515.1 L663.4,519.3 L661.6,523.5 L659.6,527.7 L657.3,531.7 L654.9,535.6 L652.3,539.4 L649.5,543 L646.5,546.4 L643.5,549.6 L640.3,552.5 L637.1,555.1 L633.8,557.5 L630.5,559.5 L627.2,561.2 L623.9,562.5 L620.7,563.5 L617.5,564.2 L614.5,564.4 L611.5,564.3 L608.7,563.8 L606.1,563 L603.7,561.8 L601.4,560.3 L599.4,558.4 L597.6,556.2 L596.1,553.7 L594.9,550.9 L593.9,547.8 L593.1,544.5 L592.7,541 L592.6,537.3 L592.7,533.4 L593.1,529.4 L593.9,525.3 L594.9,521.1 L596.1,516.9 L597.6,512.7 L599.4,508.5 L601.4,504.3 L603.7,500.3 L606.1,496.4 L608.7,492.6 L611.5,489 L614.5,485.6 L617.5,482.4 L620.7,479.5 L623.9,476.9 L627.2,474.5 L630.5,472.5 L633.8,470.8 L637.1,469.5 L640.3,468.5 L643.5,467.8 L646.5,467.6 L649.5,467.7 L652.3,468.2 L654.9,469 L657.3,470.2 L659.6,471.7 L661.6,473.6 L663.4,475.8 L664.9,478.3 L666.1,481.1 L667.1,484.2 L667.9,487.5 L668.3,491 Z"/>
<path class="t" d="M625.6,562.2 L622.5,563.2 L619.4,563.8 L616.4,564 L613.5,563.9 L610.8,563.5 L608.2,562.7 L605.8,561.5 L603.6,560 L601.6,558.1 L599.9,556 L598.4,553.5 L597.2,550.8 L596.2,547.8 L595.5,544.5 L595.1,541.1 L594.9,537.5 L595.1,533.7 L595.5,529.7 L596.2,525.7 L597.2,521.6 L598.4,517.5 L599.9,513.4 L601.6,509.3 L603.6,505.2 L605.8,501.2 L608.2,497.4 L610.8,493.7 L613.5,490.1 L616.4,486.8 L619.4,483.7 L622.5,480.9 L625.6,478.3 L628.8,476 L632.1,474 L635.3,472.4 L638.5,471 L641.7,470.1 L644.8,469.5"/>
<path class="h" d="M664.9,474.7 L666.5,477.3 L667.8,480.2 L668.8,483.3 L669.6,486.8 L670,490.4 L670.2,494.2 L670,498.2 L669.6,502.4 L668.8,506.6 L667.8,511 L666.5,515.3 L664.9,519.7 L663.1,524 L661,528.3 L658.7,532.5 L656.2,536.6 L653.4,540.5 L650.6,544.2 L647.5,547.7 L644.4,551 L641.1,554 L637.8,556.7 L634.4,559.2 L630.9,561.3 L627.5,563 L624.1,564.4 L620.8,565.4 L617.5,566.1 L614.4,566.3 L611.3,566.2"/>
<path class="k" d="M588.2,572 L586.5,568.7 L585.1,565.2 L584,561.3 L583.2,557.2 L582.7,552.9 L582.5,548.4 L582.7,543.7 L583.2,538.8 L584,533.8 L585.1,528.7 L586.5,523.6 L588.2,518.4 L594.8,518.6 L593.3,523 L592.1,527.4 L591.2,531.7 L590.5,536 L590.1,540.2 L590,544.2 L590.1,548.1 L590.5,551.8 L591.2,555.3 L592.1,558.6 L593.3,561.7 L594.8,564.4 Z"/>
<path class="k" d="M588.2,567.4 L587,564.5 L586,561.3 L585.2,558 L584.7,554.4 L584.4,550.7 L584.3,546.9 L584.4,542.9 L584.8,538.8 L585.4,534.7 L586.3,530.4 L587.3,526.1 L588.6,521.8"/>
<path class="t" d="M589.2,564.3 L588.2,561.6 L587.4,558.6 L586.8,555.6 L586.3,552.3 L586.1,548.9 L586,545.4 L586.2,541.8 L586.5,538.2 L587.1,534.4 L587.8,530.6 L588.7,526.7 L589.8,522.8"/>
<path class="t" d="M673.5,487 L676,486 L676,491.500 L673.500,492.500 Z M674.500,484.500 l0.300,1 M675,493.500 l0.300,1"/>
<path class="t" d="M683,488.500 L687.500,489.500"/>
<path class="k" d="M692.4,579.3 L692.4,581 L692.2,582.7 L691.9,584.4 L691.5,586.2 L690.9,588 L690.3,589.8 L689.5,591.6 L688.7,593.4 L687.7,595.1 L686.7,596.8 L685.6,598.4 L684.4,599.9 L683.1,601.3 L681.8,602.7 L680.5,603.9 L679.1,605 L677.7,606 L676.3,606.9 L674.9,607.6 L673.5,608.2 L672.1,608.6 L670.8,608.9 L669.5,609 L668.2,608.9 L667,608.7 L665.9,608.4 L664.9,607.9 L663.9,607.2 L663.1,606.4 L662.3,605.5 L661.7,604.4 L661.1,603.2 L660.7,601.9 L660.4,600.5 L660.2,599 L660.2,597.5 L660.2,595.8 L660.4,594.1 L660.7,592.4 L661.1,590.6 L661.7,588.8 L662.3,587 L663.1,585.2 L663.9,583.4 L664.9,581.7 L665.9,580 L667,578.4 L668.2,576.9 L669.5,575.5 L670.8,574.1 L672.1,572.9 L673.5,571.8 L674.9,570.8 L676.3,569.9 L677.7,569.2 L679.1,568.6 L680.5,568.2 L681.8,567.9 L683.1,567.8 L684.4,567.9 L685.6,568.1 L686.7,568.4 L687.7,568.9 L688.7,569.6 L689.5,570.4 L690.3,571.3 L690.9,572.4 L691.5,573.6 L691.9,574.9 L692.2,576.3 L692.4,577.8 Z"/>
<path class="t" d="M677.9,569.6 L679.2,569.2 L680.5,568.9 L681.7,568.8 L682.9,568.8 L684.1,569 L685.1,569.4 L686.1,569.9 L687,570.5 L687.8,571.2 L688.5,572.1 L689.2,573.1 L689.7,574.3 L690.1,575.5 L690.4,576.9 L690.5,578.3 L690.6,579.8 L690.5,581.3 L690.4,583 L690.1,584.6 L689.7,586.3 L689.2,588 L688.5,589.7 L687.8,591.4 L687,593.1 L686.1,594.7 L685.1,596.3 L684.1,597.9 L682.9,599.3 L681.7,600.7 L680.5,602 L679.2,603.2 L677.9,604.2 L676.6,605.2 L675.3,606 L673.9,606.7 L672.6,607.2 L671.3,607.6 L670,607.9"/>
<path class="t" d="M663,597.500 L676,591 L678,592.500 L666,599 Z M687,572 L689.500,571 L689.500,579 L687.500,579.500"/>
</g>

<!-- 66_p0224.svg -->
<g id="p0224">
<!-- strip body -->
<path class="k w" d="M466,400 L466,396 L464.300,395 L464.800,393.500 L466.500,394.500 L467.500,393.200 L469,394 L469.200,396.500 L470.800,397.500 L470.800,401 L472.500,402 L472.500,412 L471,413 L471,438 L473,439.500 L473,456 L471.500,457 L471.500,492 L473,493.500 L473,512 L471.500,513 L471.500,528 L470.500,531 L470,554 L463.800,554 L463.800,537 L467,530 L467,497 L465.800,496 L465.800,452 L467,451 L467,441 L465.800,440 Z"/>
<path class="t" d="M468.500,400 L468.500,452 M469.800,413 L469.800,438 M468.800,457 L468.800,530 L466,537.500 L466,553 M470.300,497 L470.300,512"/>
<path class="k" d="M467.800,418 l1.500,-2.500 l1.200,2.500 l0,3 l-2.700,0 Z M467.800,428 l2.500,0 l0,4 l-2.500,0 Z M463.800,544 L470,544"/>
<g fill="#222"><circle cx="469" cy="406" r=".7"/><circle cx="469.500" cy="444" r=".8"/><circle cx="470" cy="460" r=".8"/><circle cx="469.500" cy="472" r=".7"/><circle cx="469" cy="500" r=".8"/><circle cx="469.500" cy="508" r=".7"/><circle cx="468.500" cy="520" r=".8"/><circle cx="467" cy="547" r=".7"/></g>
<!-- hook bracket -->
<path class="k w" d="M450.500,465.500 L451.500,464 L453.500,464.500 L454,467.500 L463,463 L466.500,463.500 L468.500,466 L468.500,479 L466,481.500 L461,481.500 L458.500,479.500 L452,478 L449.800,475.500 L449.800,467 Z"/>
<path class="k" d="M454,467.500 L454,476 L459.500,477.500 L461,475 L465,474 L465,466.500 L463,463 M459.500,477.500 L460.500,481 M465,474 L468.500,474.500 M452,466 L452,476.500"/>
<!-- leader -->
<path class="ld" d="M448.500,514 L462.200,515"/>
</g>

<!-- 67_small.svg -->
<g id="smallparts">
<defs>
<g id="clip0212">
 <!-- origin: top-left of bbox; size ~15x18.500 -->
 <path d="M3,1 L4.500,0 L6.500,0.500 L6.800,6.500 L9.500,7.200 L10,9.500 L9.500,11.500 C12,10.500 14.500,11.500 15,13.300 C15.200,15 13.500,16.300 11,16 L8.500,17.200 L3.500,18.300 L1.500,17 L0.700,10 L1.500,8.500 L3.500,7.800 Z" fill="#fff" stroke="#1c1c1c" stroke-width="1" stroke-linejoin="round"/>
 <path d="M1.200,9.500 L1.800,17" stroke="#111" stroke-width="1.800" fill="none"/>
 <path d="M4.800,0.800 L5,7.500 M3.500,7.800 L4,17.500 M9.500,11.500 L7,12.500 C5.500,14 6,16 8.500,17.200" fill="none" stroke="#1c1c1c" stroke-width=".8"/>
 <ellipse cx="8.800" cy="14" rx="1.800" ry="2" fill="#fff" stroke="#1c1c1c" stroke-width=".7"/>
 <ellipse cx="13.600" cy="13.800" rx="1.100" ry="1.700" fill="#fff" stroke="#1c1c1c" stroke-width=".7"/>
</g>
</defs>
<!-- 0211 rod -->
<path class="k" d="M507.300,391 L507.300,563.500 Q508.950,565.500 510.600,563.500 L510.600,391"/>
<ellipse cx="509" cy="383.800" rx="4.300" ry="7" transform="rotate(18 509 383.800)" fill="#fff" stroke="#1c1c1c" stroke-width="1.300"/>
<ellipse cx="509" cy="383.600" rx="1.500" ry="3.400" transform="rotate(18 509 383.600)" fill="#fff" stroke="#1c1c1c" stroke-width=".8"/>
<!-- 0212 clips -->
<use href="#clip0212" x="656.200" y="373.100"/>
<use href="#clip0212" x="525.500" y="448.300"/>
<use href="#clip0212" x="532.500" y="626.300"/>
<path class="ld" d="M669.500,379.300 L684.500,371.100 M535.600,436.700 L535.600,450 M538.500,648.700 L538.500,663.200"/>
<!-- 0213 module -->
<g id="p0213">
<path class="k w" d="M577.300,412.500 L600.600,397.700 L603,397.200 L609.900,400.600 L610.900,403.600 L610.900,421.400 L608.500,423 L608.500,430 L605.500,432.500 L603.500,430.800 L593.800,436.600 L593.800,440.500 L585.500,443.600 L582.500,443 L577.800,439.500 Z"/>
<path class="k" d="M577.300,412.500 L584.500,418.300 L608,402.500 L609.900,400.600 M584.500,418.300 L584.500,443 M579.500,414.500 L579.500,440.500 M603,397.200 L582,411"/>
<path class="k" d="M584.500,418.300 L593.500,415 L593.800,436.600 M586.500,420.500 L592,418.500 L592,438.500 L586.500,440.500 Z M587.500,428 L591,426.500 L591,436 L587.500,437.500 Z M593.500,415 L593.500,411.500 L605,404 L606.500,405.500 M606.500,405.500 L606.500,423.500 L604.500,424.500 L604.500,410 L598.500,410.500 L594,413.500"/>
<path class="t" d="M605.500,413 l1.500,-0.500 M605.500,415.500 l1.500,-0.500 M605.500,418 l1.500,-0.500 M605.500,420.500 l1.500,-0.500 M588,430 l2.500,3.500 M586.500,441.500 L591.500,439.500 M603.500,430.800 L603.500,427.500 L607,426"/>
<path class="k" d="M577.800,414 L577.800,438.500" style="stroke-width:1.600"/>
<path class="ld" d="M582,388.400 L582,409.500"/>
</g>
</g>

<!-- 68_misc.svg -->
<g id="misc">
<!-- 0226 plinth -->
<g id="p0226">
<path class="k w" d="M486.300,594.400 L513.500,578.100 C520,583 531,585 540,580.500 C548,577 554,572 560.500,567.500 L560.500,594.400 L490.800,633.300 L486.300,630.600 Z"/>
<path class="k" d="M486.300,594.400 L490.800,597 L490.800,633.300 M490.800,597 L516,582.200 C523,586.500 533,588.500 541.500,584.500 C549,581 555,577 560.500,573"/>
<path class="ld" d="M486,648.700 L490.800,634.200"/>
</g>
<!-- 0225 module -->
<g id="p0225">
<path class="k w" d="M73.100,568.100 L84,563.300 L115.400,582 L117,586 L118.500,591 L122,606.800 L122,641.800 L116.600,643.600 L100.300,634.500 L100.300,629.700 L85.800,621.300 L73.100,618.800 Z"/>
<path class="k" d="M73.100,568.100 L104.500,585.600 L115.400,582 M104.500,585.600 L104.500,596 L119,607.500 L122,606.800 M104.500,596 L104.500,628 M75.500,570 L75.500,617.500 L86,619.500 M119,607.500 L119,642.500 M73.100,568.100 L71.500,567 L72,565.500 L74,566.500 M70.500,576.500 L73,577 L73,580 M117,589.500 L119.500,590.500 L119.500,594 L118.500,594.500 M73.100,603.500 l-1.500,0 l0,-2 l1.500,0"/>
<!-- grille -->
<path d="M77.500,572.500 L100,585 L100,597.500 L77.500,585.500 Z" fill="#4a4a4a" stroke="#1c1c1c" stroke-width=".8"/>
<path d="M79.500,575 l0,4.300 M81.500,576 l0,4.300 M83.500,577.200 l0,4.300 M85.500,578.300 l0,4.300 M87.500,579.400 l0,4.300 M89.500,580.500 l0,4.300 M91.500,581.600 l0,4.300 M93.500,582.700 l0,4.300 M95.500,583.800 l0,4.300 M97.500,585 l0,4.300 M79.500,581 l0,3.800 M81.500,582 l0,3.800 M83.500,583.200 l0,3.800 M85.500,584.300 l0,3.800 M87.500,585.400 l0,3.800 M89.500,586.500 l0,3.800 M91.500,587.600 l0,3.800 M93.500,588.700 l0,3.800 M95.500,589.800 l0,3.800 M97.500,591 l0,3.800" stroke="#fff" stroke-width=".75" fill="none"/>
<path class="k" d="M77.500,588 L100,600 L95,602.500 M80,589.500 L80,609 M82,590.500 L82,606 M84,592 L84,600"/>
<path d="M80.500,590 L83.500,591.500 L83.500,604 L80.500,602.500 Z" fill="#333" stroke="none"/>
<!-- motor cylinder -->
<ellipse class="k w" cx="92.500" cy="604.500" rx="5.500" ry="6" transform="rotate(-20 92.500 604.500)"/>
<path class="k" d="M95,599 L103,596 L104.500,600.500 M96.500,609.500 L104.500,606 M86,598 L88,594 L93,593 L95,596.500 M84,609 L90,612.500 L90,620 M86,601 L83,603 L83,609"/>
<path class="k" d="M90,612.500 L97,610 L101,612 L101,618 M94,618.500 L100.300,621 L100.300,629.700"/>
<!-- right lower panel with contour -->
<path class="k" d="M105.500,606 C106,603 109,602.500 111,604 L116,607.500 C118,609 118.500,611 118.500,613 L118.500,616 L119,617"/>
<path d="M107.500,610 L113,613 L113,620 L107.500,617 Z" fill="#444" stroke="#1c1c1c" stroke-width=".6"/>
<path class="k" d="M104.500,622 L109,619.500 L112,622 L107,625 M110,626 L110,634 M113,628 L113,636 M115.500,622 L115.500,638 L117,639 L117,623 M102.500,620 L102.500,633.500"/>
<!-- bottom left rail -->
<path class="k" d="M73.100,616 L83,611 L84.500,612.500 L76,617 M85.800,621.300 L85.800,614"/>
<path class="ld" d="M122.600,626.700 L146.800,626.700 L146.800,616.400"/>
</g>
<!-- 0206 foot -->
<g id="p0206">
<path class="k w" d="M229.900,680.500 C229.900,676 234,674.200 239.900,674.200 C246,674.200 249.900,676 249.900,680.500 L249.900,682.500 C249.900,686.500 245,688.500 239.900,688.500 C234.500,688.500 229.900,686.500 229.900,682.500 Z"/>
<path class="k" d="M229.900,680.500 C230.500,684 235,685.200 239.900,685.200 C245,685.200 249.500,684 249.900,680.500 M239.900,685.200 L239.900,688.500 M233,683.800 L232.300,686.800 M246.800,683.800 L247.500,686.800"/>
<ellipse class="k" cx="239.900" cy="679.500" rx="6" ry="2.800"/>
<path class="t" d="M236.500,679.500 L238,681.800 L241.800,681.800 L243.300,679.500"/>
<path class="k w" d="M236.200,678.500 L236.200,662.500 Q236.200,660.900 239.900,660.900 Q243.600,660.900 243.600,662.500 L243.600,678.500 Q239.900,680 236.200,678.500 Z"/>
<path class="t" d="M236.200,664 q3.700,1.200 7.400,0 M236.200,665.800 q3.700,1.200 7.400,0 M236.200,667.600 q3.700,1.200 7.400,0 M236.200,669.400 q3.700,1.200 7.400,0 M236.200,671.200 q3.700,1.200 7.400,0 M236.200,673 q3.700,1.200 7.400,0 M236.200,674.800 q3.700,1.200 7.400,0 M236.200,676.600 q3.700,1.200 7.400,0"/>
</g>
<!-- 0220 screw -->
<g id="p0220">
<path class="k w" d="M891,553 L894.500,552 L896,554 L896,559.500 L894,561.500 L891,560.500 Z"/>
<path class="k" d="M891,555.500 L885,553.500 M891,558 L885.500,556 M883,552 L885.500,553 L885.500,556.500 L883.500,556 Z"/>
<path d="M882,551.500 l2.500,1 l0,1.500 l-2.500,-1 Z" fill="#222"/>
<path class="ld" d="M901.700,536.200 L893.300,552.500"/>
</g>
<!-- 0208 hinge + 0209 bolts -->
<g id="p0208">
<path class="k2 w" d="M628.500,668.500 L630.500,667.200 L633,668 L633.500,671 L633,680 L636.500,680.500 L637.500,682.500 L637,685 L633.500,685.500 L633.500,697 L636.500,697.500 L637.500,699.500 L637,702 L633.500,702.500 L633,708 L631,710.800 L628,710.500 L626.500,706 C624.500,698 624,684 626,674 Z"/>
<path class="k" d="M629.500,670 L631.500,669.500 L632,672 L630,672.800 Z M629,706 L631,705.500 L631.500,708 L629.500,708.800 Z M627,680.500 L633,680 M627,685.500 L633.500,685.500 M627,697.500 L633.500,697 M627,702.500 L633.500,702.500 M630,680.500 L630,685.500 M630,697.500 L630,702.500 M635,680.500 L635,685 M635,697.500 L635,702"/>
<ellipse cx="648" cy="675.200" rx="1.500" ry="2.200" transform="rotate(-20 648 675.200)" fill="#fff" stroke="#111" stroke-width="1.500"/>
<ellipse cx="648" cy="699.800" rx="1.500" ry="2.200" transform="rotate(-20 648 699.800)" fill="#fff" stroke="#111" stroke-width="1.500"/>
<path class="ld" d="M660.900,705.800 L649.700,677.300 M660.900,705.800 L649.900,701.200 M609.600,746 L625.800,726.300"/>
</g>
<!-- 0215 leader -->
<path class="ld" d="M700,448 L715.500,438"/>
</g>

<!-- 70_rings.svg -->
<g id="p0223">
<path class="k2 w" d="M420.5,555.4 L420.4,557.1 L420.2,558.8 L419.9,560.5 L419.5,562.3 L418.9,564.1 L418.2,565.9 L417.4,567.6 L416.6,569.3 L415.6,571 L414.5,572.6 L413.3,574.2 L412.1,575.7 L410.8,577.1 L409.4,578.3 L408,579.5 L406.6,580.5 L405.2,581.5 L403.7,582.2 L402.2,582.9 L400.8,583.4 L399.3,583.7 L397.9,583.9 L396.6,583.9 L395.3,583.8 L394.1,583.5 L392.9,583.1 L391.8,582.5 L390.8,581.8 L389.9,580.9 L389.1,579.9 L388.5,578.8 L387.9,577.5 L387.5,576.2 L387.2,574.7 L387,573.2 L386.9,571.6 L387,570 L387.2,568.2 L387.5,566.5 L387.9,564.7 L388.5,562.9 L389.1,561.2 L389.9,559.4 L390.8,557.7 L391.8,556 L392.9,554.4 L394.1,552.8 L395.3,551.4 L396.6,550 L397.9,548.7 L399.3,547.5 L400.8,546.5 L402.2,545.6 L403.7,544.8 L405.2,544.2 L406.6,543.7 L408,543.3 L409.4,543.1 L410.8,543.1 L412.1,543.2 L413.3,543.5 L414.5,544 L415.6,544.5 L416.6,545.3 L417.4,546.1 L418.2,547.1 L418.9,548.3 L419.5,549.5 L419.9,550.8 L420.2,552.3 L420.4,553.8 Z"/>
<path class="k2 w" d="M423.1,555.9 L423,557.6 L422.8,559.3 L422.5,561 L422.1,562.8 L421.5,564.6 L420.8,566.3 L420.1,568.1 L419.2,569.8 L418.2,571.5 L417.1,573.1 L415.9,574.7 L414.7,576.2 L413.4,577.5 L412,578.8 L410.6,580 L409.2,581 L407.8,581.9 L406.3,582.7 L404.8,583.4 L403.4,583.8 L402,584.2 L400.6,584.4 L399.2,584.4 L397.9,584.3 L396.7,584 L395.5,583.6 L394.4,583 L393.4,582.2 L392.5,581.4 L391.8,580.4 L391.1,579.3 L390.5,578 L390.1,576.7 L389.8,575.2 L389.6,573.7 L389.5,572.1 L389.6,570.4 L389.8,568.7 L390.1,567 L390.5,565.2 L391.1,563.4 L391.8,561.7 L392.5,559.9 L393.4,558.2 L394.4,556.5 L395.5,554.9 L396.7,553.3 L397.9,551.8 L399.2,550.5 L400.6,549.2 L402,548 L403.4,547 L404.8,546.1 L406.3,545.3 L407.8,544.6 L409.2,544.2 L410.6,543.8 L412,543.6 L413.4,543.6 L414.7,543.7 L415.9,544 L417.1,544.4 L418.2,545 L419.2,545.8 L420.1,546.6 L420.8,547.6 L421.5,548.7 L422.1,550 L422.5,551.3 L422.8,552.8 L423,554.3 Z"/>
<path class="k" d="M420.4,557.2 L420.3,558.6 L420.2,560 L419.9,561.5 L419.5,563 L419.1,564.5 L418.5,566 L417.8,567.4 L417.1,568.9 L416.3,570.3 L415.4,571.7 L414.4,573 L413.3,574.2 L412.3,575.4 L411.1,576.4 L409.9,577.4 L408.7,578.3 L407.5,579.1 L406.3,579.7 L405.1,580.2 L403.9,580.7 L402.7,580.9 L401.5,581.1 L400.3,581.1 L399.3,581 L398.2,580.8 L397.2,580.4 L396.3,579.9 L395.5,579.3 L394.8,578.6 L394.1,577.7 L393.5,576.8 L393.1,575.8 L392.7,574.6 L392.4,573.4 L392.3,572.1 L392.2,570.8 L392.3,569.4 L392.4,568 L392.7,566.5 L393.1,565 L393.5,563.5 L394.1,562 L394.8,560.6 L395.5,559.1 L396.3,557.7 L397.2,556.3 L398.2,555 L399.3,553.8 L400.3,552.6 L401.5,551.6 L402.7,550.6 L403.9,549.7 L405.1,548.9 L406.3,548.3 L407.5,547.8 L408.7,547.3 L409.9,547.1 L411.1,546.9 L412.3,546.9 L413.3,547 L414.4,547.2 L415.4,547.6 L416.3,548.1 L417.1,548.7 L417.8,549.4 L418.5,550.3 L419.1,551.2 L419.5,552.2 L419.9,553.4 L420.2,554.6 L420.3,555.9 Z"/>
<path class="k2" d="M417,559.3 L417,560.3 L416.9,561.3 L416.7,562.3 L416.4,563.4 L416.1,564.4 L415.7,565.4 L415.2,566.5 L414.7,567.5 L414.1,568.5 L413.5,569.4 L412.8,570.3 L412.1,571.2 L411.3,572 L410.5,572.7 L409.7,573.4 L408.9,574 L408,574.6 L407.2,575 L406.3,575.4 L405.5,575.7 L404.6,575.9 L403.8,576 L403,576 L402.3,575.9 L401.5,575.8 L400.9,575.5 L400.2,575.2 L399.6,574.7 L399.1,574.2 L398.7,573.7 L398.3,573 L397.9,572.3 L397.7,571.5 L397.5,570.6 L397.4,569.7 L397.3,568.8 L397.4,567.8 L397.5,566.8 L397.7,565.8 L397.9,564.8 L398.3,563.7 L398.7,562.7 L399.1,561.7 L399.6,560.7 L400.2,559.7 L400.9,558.7 L401.5,557.8 L402.3,556.9 L403,556.1 L403.8,555.4 L404.6,554.7 L405.5,554.1 L406.3,553.6 L407.2,553.1 L408,552.7 L408.9,552.4 L409.7,552.2 L410.5,552.1 L411.3,552.1 L412.1,552.2 L412.8,552.4 L413.5,552.6 L414.1,553 L414.7,553.4 L415.2,553.9 L415.7,554.5 L416.1,555.1 L416.4,555.9 L416.7,556.6 L416.9,557.5 L417,558.4 Z"/>
<path class="k2 w" d="M415.5,560.5 L415.5,561.3 L415.4,562 L415.3,562.8 L415.1,563.6 L414.8,564.4 L414.5,565.2 L414.2,566 L413.8,566.7 L413.3,567.5 L412.8,568.2 L412.3,568.9 L411.8,569.5 L411.2,570.2 L410.6,570.7 L410,571.3 L409.3,571.7 L408.7,572.1 L408,572.5 L407.4,572.8 L406.7,573 L406.1,573.1 L405.5,573.2 L404.9,573.2 L404.3,573.2 L403.7,573 L403.2,572.8 L402.7,572.6 L402.3,572.3 L401.9,571.9 L401.6,571.4 L401.3,570.9 L401,570.4 L400.8,569.8 L400.7,569.1 L400.6,568.5 L400.6,567.7 L400.6,567 L400.7,566.2 L400.8,565.5 L401,564.7 L401.3,563.9 L401.6,563.1 L401.9,562.3 L402.3,561.5 L402.7,560.8 L403.2,560.1 L403.7,559.4 L404.3,558.7 L404.9,558.1 L405.5,557.5 L406.1,557 L406.7,556.5 L407.4,556.1 L408,555.8 L408.7,555.5 L409.3,555.3 L410,555.1 L410.6,555.1 L411.2,555 L411.8,555.1 L412.3,555.2 L412.8,555.4 L413.3,555.7 L413.8,556 L414.2,556.4 L414.5,556.8 L414.8,557.3 L415.1,557.9 L415.3,558.5 L415.4,559.1 L415.5,559.8 Z"/>
<path class="k" d="M414.3,560.1 L414.3,560.9 L414.2,561.7 L414,562.5 L413.8,563.3 L413.6,564.1 L413.3,564.9 L412.9,565.7 L412.5,566.5 L412.1,567.3 L411.6,568 L411,568.7 L410.5,569.4 L409.9,570 L409.3,570.6 L408.6,571.1 L408,571.6 L407.3,572 L406.6,572.4 L406,572.7 L405.3,572.9 L404.7,573 L404,573.1 L403.4,573.1 L402.8,573.1 L402.3,572.9 L401.7,572.7 L401.2,572.5 L400.8,572.2 L400.4,571.8 L400,571.3 L399.7,570.8 L399.5,570.2 L399.3,569.6 L399.1,569 L399,568.3 L399,567.5 L399,566.8 L399.1,566 L399.3,565.2 L399.5,564.4 L399.7,563.6 L400,562.8 L400.4,562 L400.8,561.2 L401.2,560.4 L401.7,559.7 L402.3,559 L402.8,558.3 L403.4,557.7 L404,557.1 L404.7,556.5 L405.3,556.1 L406,555.7 L406.6,555.3 L407.3,555 L408,554.8 L408.6,554.6 L409.3,554.5 L409.9,554.5 L410.5,554.6 L411,554.7 L411.6,554.9 L412.1,555.2 L412.5,555.5 L412.9,555.9 L413.3,556.4 L413.6,556.9 L413.8,557.4 L414,558.1 L414.2,558.7 L414.3,559.4 Z"/>
<path class="k2" d="M417.2,559.2 L420.4,557.2 M415.8,565.5 L418.5,566 M412.2,571.3 L413.3,574.2 M407.2,575.2 L406.3,579.7 M402.2,576.1 L399.3,581 M398.5,573.8 L394.1,577.7 M397.2,568.9 L392.2,570.8 M398.5,562.7 L394.1,562 M402.2,556.8 L399.3,553.8 M407.2,552.9 L406.3,548.3 M412.2,552 L413.3,547 M415.8,554.3 L418.5,550.3 "/>
<circle cx="420.1" cy="568.1" r="1.4" fill="#fff" stroke="#111" stroke-width="1"/><circle cx="416.3" cy="567" r="1.1" fill="#222"/><circle cx="403.4" cy="583.8" r="1.4" fill="#fff" stroke="#111" stroke-width="1"/><circle cx="404.2" cy="578.4" r="1.1" fill="#222"/><circle cx="390.5" cy="578" r="1.4" fill="#fff" stroke="#111" stroke-width="1"/><circle cx="394.9" cy="574.2" r="1.1" fill="#222"/><circle cx="392.5" cy="559.9" r="1.4" fill="#fff" stroke="#111" stroke-width="1"/><circle cx="396.3" cy="561" r="1.1" fill="#222"/><circle cx="409.2" cy="544.2" r="1.4" fill="#fff" stroke="#111" stroke-width="1"/><circle cx="408.4" cy="549.6" r="1.1" fill="#222"/><circle cx="420.8" cy="547.6" r="1.4" fill="#fff" stroke="#111" stroke-width="1"/><circle cx="416.8" cy="552.1" r="1.1" fill="#222"/><path class="k2" d="M399,581 L399.5,584.5 L401.5,586 L403.5,585 L403.500,581.500 M410.500,578.500 L411.500,581.500 L413.500,580.500 L413,577.500 M389.500,566 L388,568 L389,571.500"/>
<path class="ld" d="M386.500,600.300 L399.200,583.600"/>
</g>
<g id="p0210">
<path class="t" d="M471.1,584.4 L471,586.2 L470.8,588.1 L470.5,590 L470,592 L469.4,594 L468.7,596 L467.9,597.9 L466.9,599.9 L465.9,601.8 L464.7,603.6 L463.5,605.4 L462.2,607.1 L460.8,608.7 L459.4,610.2 L457.9,611.5 L456.4,612.8 L454.9,613.9 L453.3,614.8 L451.7,615.6 L450.2,616.2 L448.7,616.7 L447.2,617 L445.8,617.1 L444.4,617.1 L443.1,616.8 L441.9,616.4 L440.7,615.9 L439.7,615.2 L438.7,614.3 L437.9,613.2 L437.2,612.1 L436.6,610.8 L436.1,609.3 L435.8,607.8 L435.6,606.1 L435.5,604.4 L435.6,602.6 L435.8,600.7 L436.1,598.8 L436.6,596.8 L437.2,594.8 L437.9,592.8 L438.7,590.9 L439.7,588.9 L440.7,587 L441.9,585.2 L443.1,583.4 L444.4,581.7 L445.8,580.1 L447.2,578.6 L448.7,577.3 L450.2,576 L451.7,574.9 L453.3,574 L454.9,573.2 L456.4,572.6 L457.9,572.1 L459.4,571.8 L460.8,571.7 L462.2,571.7 L463.5,572 L464.7,572.4 L465.9,572.9 L466.9,573.6 L467.9,574.5 L468.7,575.6 L469.4,576.7 L470,578 L470.5,579.5 L470.8,581 L471,582.7 Z"/>
<path class="t" d="M447.9,617 L446.5,617.1 L445.1,617.1 L443.8,616.8 L442.6,616.5 L441.4,615.9 L440.4,615.2 L439.4,614.3 L438.6,613.3 L437.9,612.1 L437.3,610.8 L436.8,609.3 L436.5,607.8 L436.3,606.1 L436.2,604.4 L436.3,602.6 L436.5,600.7 L436.8,598.8 L437.3,596.8 L437.9,594.8 L438.6,592.9 L439.4,590.9 L440.4,588.9 L441.4,587 L442.6,585.2 L443.8,583.4 L445.1,581.7 L446.5,580.1 L447.9,578.7"/>
<path class="k" d="M447.500,573.500 L455,571.200 L457.500,572 L456.500,574 L450.500,576 Z M451.500,572.500 l0.500,2 M454,571.700 l0.500,2"/>
<path class="k" d="M443.500,616.500 L446.500,618 L446,620 L443.500,619 Z M435.500,600 l0,5"/>
<path class="ld" d="M429.600,621.500 L438.900,613.800"/>
</g>
<g id="p0216">
<path class="k w" d="M808.2,577 L808,581.9 L807.5,586.8 L806.5,591.8 L805.2,596.8 L803.6,601.8 L801.6,606.7 L799.3,611.4 L796.7,616.1 L793.8,620.5 L790.6,624.7 L787.2,628.7 L783.6,632.4 L779.7,635.8 L775.8,638.8 L771.7,641.5 L767.5,643.9 L763.2,645.8 L758.9,647.3 L754.6,648.4 L750.3,649.1 L746.1,649.3 L742,649.1 L738,648.5 L734.2,647.4 L730.6,645.9 L727.2,644 L724,641.8 L721.1,639.1 L718.5,636.1 L716.2,632.7 L714.2,629 L712.5,625.1 L711.2,620.9 L710.3,616.4 L709.7,611.8 L709.6,607.1 L709.7,602.2 L710.3,597.2 L711.2,592.2 L712.5,587.3 L714.2,582.3 L716.2,577.4 L718.5,572.6 L721.1,568 L724,563.6 L727.2,559.3 L730.6,555.4 L734.2,551.7 L738,548.3 L742,545.2 L746.1,542.5 L750.3,540.2 L754.6,538.3 L758.9,536.8 L763.2,535.7 L767.5,535 L771.7,534.8 L775.8,535 L779.7,535.6 L783.6,536.7 L787.2,538.1 L790.6,540 L793.8,542.3 L796.7,545 L799.3,548 L801.6,551.4 L803.6,555.1 L805.2,559 L806.5,563.2 L807.5,567.6 L808,572.3 Z"/>
<path class="k2 w" d="M810.8,578 L810.6,582.8 L810.1,587.8 L809.1,592.8 L807.9,597.8 L806.2,602.7 L804.2,607.6 L801.9,612.4 L799.3,617 L796.4,621.5 L793.2,625.7 L789.8,629.7 L786.2,633.4 L782.3,636.8 L778.4,639.8 L774.3,642.5 L770.1,644.8 L765.8,646.8 L761.5,648.3 L757.2,649.4 L752.9,650.1 L748.7,650.3 L744.6,650.1 L740.7,649.5 L736.8,648.4 L733.2,646.9 L729.8,645 L726.6,642.7 L723.7,640 L721.1,637 L718.8,633.7 L716.8,630 L715.1,626 L713.9,621.8 L712.9,617.4 L712.4,612.8 L712.2,608 L712.4,603.2 L712.9,598.2 L713.9,593.2 L715.1,588.2 L716.8,583.3 L718.8,578.4 L721.1,573.6 L723.7,569 L726.6,564.5 L729.8,560.3 L733.2,556.3 L736.8,552.6 L740.7,549.2 L744.6,546.2 L748.7,543.5 L752.9,541.2 L757.2,539.2 L761.5,537.7 L765.8,536.6 L770.1,535.9 L774.3,535.7 L778.4,535.9 L782.3,536.5 L786.2,537.6 L789.8,539.1 L793.2,541 L796.4,543.3 L799.3,546 L801.9,549 L804.2,552.3 L806.2,556 L807.9,560 L809.1,564.2 L810.1,568.6 L810.6,573.2 Z"/>
<path class="t" d="M808.3,578.2 L808.1,582.9 L807.6,587.7 L806.7,592.5 L805.4,597.3 L803.8,602.1 L801.9,606.8 L799.7,611.4 L797.2,615.9 L794.3,620.2 L791.3,624.3 L788,628.1 L784.5,631.7 L780.8,635 L776.9,637.9 L773,640.5 L768.9,642.8 L764.8,644.6 L760.6,646.1 L756.5,647.2 L752.4,647.8 L748.3,648 L744.3,647.9 L740.5,647.2 L736.8,646.2 L733.3,644.8 L730,642.9 L726.9,640.7 L724.1,638.1 L721.6,635.2 L719.3,632 L717.4,628.4 L715.8,624.6 L714.6,620.5 L713.7,616.3 L713.1,611.8 L713,607.2 L713.1,602.5 L713.7,597.7 L714.6,592.9 L715.8,588.1 L717.4,583.3 L719.3,578.5 L721.6,573.9 L724.1,569.5 L726.9,565.2 L730,561.1 L733.3,557.2 L736.8,553.7 L740.5,550.4 L744.3,547.4 L748.3,544.8 L752.4,542.6 L756.5,540.7 L760.6,539.2 L764.8,538.2 L768.9,537.5 L773,537.3 L776.9,537.5 L780.8,538.1 L784.5,539.1 L788,540.6 L791.3,542.4 L794.3,544.6 L797.2,547.2 L799.7,550.1 L801.9,553.4 L803.8,556.9 L805.4,560.8 L806.7,564.8 L807.6,569.1 L808.1,573.6 Z"/>
<path class="k" d="M803.7,580.1 L803.5,584.3 L803.1,588.6 L802.3,592.8 L801.2,597.1 L799.7,601.3 L798,605.5 L796.1,609.6 L793.8,613.6 L791.3,617.3 L788.6,621 L785.7,624.4 L782.6,627.5 L779.3,630.4 L775.9,633 L772.4,635.3 L768.8,637.3 L765.2,639 L761.5,640.3 L757.8,641.2 L754.2,641.8 L750.6,642 L747.1,641.8 L743.7,641.3 L740.4,640.4 L737.3,639.1 L734.4,637.5 L731.7,635.5 L729.2,633.2 L726.9,630.7 L725,627.8 L723.3,624.6 L721.8,621.3 L720.7,617.7 L719.9,613.9 L719.5,609.9 L719.3,605.9 L719.5,601.7 L719.9,597.4 L720.7,593.2 L721.8,588.9 L723.3,584.7 L725,580.5 L726.9,576.4 L729.2,572.4 L731.7,568.7 L734.4,565 L737.3,561.6 L740.4,558.5 L743.7,555.6 L747.1,553 L750.6,550.7 L754.2,548.7 L757.8,547 L761.5,545.7 L765.2,544.8 L768.8,544.2 L772.4,544 L775.9,544.2 L779.3,544.7 L782.6,545.6 L785.7,546.9 L788.6,548.5 L791.3,550.5 L793.8,552.8 L796.1,555.3 L798,558.2 L799.7,561.4 L801.2,564.7 L802.3,568.3 L803.1,572.1 L803.5,576.1 Z"/>
<path class="t" d="M801.5,580.5 L801.4,584.5 L800.9,588.6 L800.1,592.7 L799.1,596.8 L797.7,600.8 L796.1,604.8 L794.2,608.8 L792.1,612.5 L789.7,616.2 L787.1,619.6 L784.3,622.9 L781.3,625.9 L778.2,628.7 L774.9,631.2 L771.5,633.4 L768.1,635.3 L764.6,636.9 L761.1,638.2 L757.5,639.1 L754,639.6 L750.6,639.8 L747.2,639.7 L744,639.1 L740.8,638.3 L737.9,637 L735.1,635.5 L732.5,633.6 L730.1,631.4 L727.9,628.9 L726,626.2 L724.4,623.2 L723,619.9 L722,616.5 L721.2,612.8 L720.8,609.1 L720.6,605.2 L720.8,601.2 L721.2,597.1 L722,593 L723,588.9 L724.4,584.8 L726,580.8 L727.9,576.9 L730.1,573.1 L732.5,569.5 L735.1,566 L737.9,562.8 L740.8,559.7 L744,557 L747.2,554.5 L750.6,552.2 L754,550.3 L757.5,548.7 L761.1,547.5 L764.6,546.6 L768.1,546.1 L771.5,545.9 L774.9,546 L778.2,546.5 L781.3,547.4 L784.3,548.6 L787.1,550.2 L789.7,552.1 L792.1,554.3 L794.2,556.7 L796.1,559.5 L797.7,562.5 L799.1,565.8 L800.1,569.2 L800.9,572.8 L801.4,576.6 Z"/>
<path class="k2 w" d="M797.6,582.3 L797.5,585.8 L797.1,589.4 L796.4,593 L795.5,596.6 L794.3,600.2 L792.8,603.7 L791.2,607.2 L789.3,610.5 L787.2,613.7 L784.9,616.8 L782.4,619.7 L779.8,622.3 L777,624.8 L774.1,627 L771.2,629 L768.1,630.6 L765,632 L761.9,633.1 L758.8,633.9 L755.7,634.4 L752.7,634.6 L749.7,634.4 L746.9,634 L744.1,633.2 L741.5,632.1 L739,630.8 L736.7,629.1 L734.6,627.2 L732.7,625 L731,622.6 L729.6,619.9 L728.4,617 L727.5,614 L726.8,610.8 L726.4,607.5 L726.3,604 L726.4,600.5 L726.8,596.9 L727.5,593.3 L728.4,589.7 L729.6,586.1 L731,582.6 L732.7,579.1 L734.6,575.8 L736.7,572.6 L739,569.5 L741.5,566.6 L744.1,564 L746.9,561.5 L749.7,559.3 L752.7,557.4 L755.7,555.7 L758.8,554.3 L761.9,553.2 L765,552.4 L768.1,551.9 L771.2,551.7 L774.1,551.9 L777,552.3 L779.8,553.1 L782.4,554.2 L784.9,555.6 L787.2,557.2 L789.3,559.1 L791.2,561.3 L792.8,563.8 L794.3,566.4 L795.5,569.3 L796.4,572.3 L797.1,575.5 L797.5,578.9 Z"/>
<path class="k" d="M797.4,581.4 L797.3,585 L796.9,588.7 L796.2,592.5 L795.2,596.2 L794,599.9 L792.5,603.6 L790.7,607.2 L788.8,610.6 L786.6,614 L784.2,617.1 L781.7,620.1 L778.9,622.9 L776.1,625.4 L773.1,627.7 L770,629.7 L766.9,631.5 L763.7,632.9 L760.5,634.1 L757.2,634.9 L754,635.4 L750.9,635.6 L747.8,635.4 L744.8,635 L742,634.2 L739.2,633 L736.7,631.6 L734.3,629.9 L732.1,627.9 L730.2,625.6 L728.4,623.1 L726.9,620.4 L725.7,617.4 L724.7,614.2 L724,610.9 L723.6,607.5 L723.5,603.9 L723.6,600.2 L724,596.5 L724.7,592.8 L725.7,589 L726.9,585.3 L728.4,581.7 L730.2,578.1 L732.1,574.6 L734.3,571.3 L736.7,568.1 L739.2,565.2 L742,562.4 L744.8,559.8 L747.8,557.5 L750.9,555.5 L754,553.8 L757.2,552.3 L760.5,551.2 L763.7,550.4 L766.9,549.9 L770,549.7 L773.1,549.8 L776.1,550.3 L778.9,551.1 L781.7,552.2 L784.2,553.7 L786.6,555.4 L788.8,557.4 L790.7,559.6 L792.5,562.2 L794,564.9 L795.2,567.9 L796.2,571 L796.9,574.3 L797.3,577.8 Z"/>
<path class="k" d="M798.1,587.6 L808.9,586 M795,600.3 L804.9,602.5 M789,612.4 L797.1,618.1 M780.5,622.7 L786.1,631.5 M770.4,630.5 L773.1,641.5 M759.6,635 L759,647.3 M748.9,635.8 L745.1,648.4 M739.2,632.9 L732.7,644.6 M731.6,626.5 L722.8,636.3 M726.5,617.1 L716.3,624.2 M724.5,605.7 L713.7,609.4 M725.8,593.2 L715.3,593.2 M730.1,580.6 L720.9,576.9 M737.2,569.1 L730.1,562.1 M746.5,559.7 L742,549.9 M757,553.2 L755.7,541.6 M767.9,550.2 L769.8,537.7 M778.3,551 L783.2,538.6 M787.2,555.4 L794.7,544.3 M793.8,563.1 L803.4,554.3 M797.7,573.4 L808.3,567.6 "/>
<path d="M806.3,579.4 L805.6,588.3 M798.6,609.8 L793.7,618.1 M778.3,634.4 L770.8,639.3 M752.2,645 L744.7,644.7 M729.3,637.7 L724.4,632.4 M717.4,615.2 L716.7,606.6 M720.6,585 L724.4,576.2 M737.8,557.6 L744.7,551.6 M763.1,542.3 L770.8,541 M787.8,544.4 L793.7,548.3 M803.6,563 L805.6,570.8 " fill="none" stroke="#111" stroke-width="1.8"/><path d="M798.9,594.4 L796.7,601.5 M786.1,619.6 L781.1,625 M764.9,635.7 L758.8,637.6 M742.5,637.2 L737.4,634.9 M726.6,623.5 L724.3,617.9 M722.6,599.5 L723.9,592.4 M732,573.2 L736.3,567.1 M751.4,553.7 L757.4,550.6 M774.2,547.6 L779.9,548.7 M792.8,557.1 L796.1,561.9 M800.6,578.8 L800.4,585.7 " fill="none" stroke="#111" stroke-width="1.5"/><g transform="translate(0,4)"><path class="k2 w" d="M714,597 L718.500,594.500 L722,596.500 L722,601 L719,602 L719,607.500 L722.500,610 L722.500,614 L718.500,616 L714.500,613.500 L712.500,608 L712.500,600 Z"/>
<path class="k2" d="M716,600 L719,598.500 M715,606 C716,610 718,612 721,612.500 M714.500,603 l3,1.500 M713,609 l3,2 l0,3"/>
<path d="M719,594 l3.5,-2 l0.5,3.5 l-3,1.500 Z M719.5,615 l3,2.500 l-1,2 l-3.500,-2 Z" fill="#222" stroke="#111" stroke-width=".8"/><path class="k2" d="M800.500,566.500 l3,-1 l0,9 l-3,1 Z M802,569 l3.500,0.500 l0,5 l-3.500,-0.500"/>
<path d="M801,568 l2,-0.600 l0,3 l-2,0.600 Z M801,573 l2,-0.600 l0,3 l-2,0.600 Z" fill="#111" stroke="#111" stroke-width=".8"/></g><path class="ld" d="M793.200,516.300 L784.800,534.300"/>
</g>
<g id="p0218">
<path class="t w" d="M873,625.3 L872.8,629.2 L872.4,633.1 L871.7,637 L870.7,641 L869.4,644.9 L867.9,648.7 L866.1,652.5 L864.1,656.2 L861.9,659.7 L859.5,663.1 L856.9,666.3 L854.1,669.2 L851.2,671.9 L848.1,674.4 L845,676.6 L841.8,678.5 L838.5,680.1 L835.2,681.3 L831.9,682.3 L828.6,682.9 L825.4,683.1 L822.3,683 L819.2,682.6 L816.3,681.8 L813.5,680.7 L810.9,679.3 L808.5,677.5 L806.3,675.5 L804.3,673.1 L802.5,670.5 L801,667.7 L799.7,664.6 L798.7,661.3 L798,657.9 L797.6,654.3 L797.4,650.5 L797.6,646.7 L798,642.8 L798.7,638.9 L799.7,634.9 L801,631 L802.5,627.1 L804.3,623.4 L806.3,619.7 L808.5,616.1 L810.9,612.8 L813.5,609.6 L816.3,606.6 L819.2,603.9 L822.3,601.5 L825.4,599.3 L828.6,597.4 L831.9,595.8 L835.2,594.5 L838.5,593.6 L841.8,593 L845,592.8 L848.1,592.8 L851.2,593.3 L854.1,594.1 L856.9,595.2 L859.5,596.6 L861.9,598.3 L864.1,600.4 L866.1,602.7 L867.9,605.3 L869.4,608.2 L870.7,611.3 L871.7,614.5 L872.4,618 L872.8,621.6 Z"/>
<path class="k w" d="M874.1,626 L873.9,629.8 L873.5,633.7 L872.8,637.6 L871.8,641.5 L870.6,645.4 L869,649.3 L867.3,653 L865.3,656.7 L863.1,660.2 L860.7,663.5 L858.1,666.7 L855.3,669.6 L852.4,672.4 L849.4,674.8 L846.2,677 L843,678.9 L839.8,680.4 L836.5,681.7 L833.2,682.6 L830,683.2 L826.8,683.5 L823.6,683.4 L820.6,682.9 L817.7,682.2 L814.9,681.1 L812.3,679.6 L809.9,677.9 L807.7,675.9 L805.7,673.5 L804,670.9 L802.4,668.1 L801.2,665 L800.2,661.8 L799.5,658.3 L799.1,654.7 L798.9,651 L799.1,647.2 L799.5,643.3 L800.2,639.4 L801.2,635.5 L802.4,631.6 L804,627.7 L805.7,624 L807.7,620.3 L809.9,616.8 L812.3,613.5 L814.9,610.3 L817.7,607.4 L820.6,604.6 L823.6,602.2 L826.8,600 L830,598.1 L833.2,596.6 L836.5,595.3 L839.8,594.4 L843,593.8 L846.2,593.5 L849.4,593.6 L852.4,594.1 L855.3,594.8 L858.1,595.9 L860.7,597.4 L863.1,599.1 L865.3,601.1 L867.3,603.5 L869,606.1 L870.6,608.9 L871.8,612 L872.8,615.2 L873.5,618.7 L873.9,622.3 Z"/>
<path class="k" d="M868.3,627.4 L868.2,630.6 L867.9,633.9 L867.3,637.2 L866.4,640.5 L865.4,643.8 L864.1,647.1 L862.6,650.3 L860.9,653.4 L859,656.4 L857,659.2 L854.8,661.9 L852.4,664.4 L850,666.7 L847.4,668.8 L844.7,670.6 L842,672.2 L839.3,673.5 L836.5,674.6 L833.7,675.4 L831,675.9 L828.3,676.1 L825.6,676 L823,675.7 L820.6,675 L818.2,674.1 L816,672.9 L814,671.4 L812.1,669.7 L810.4,667.7 L808.9,665.5 L807.6,663.1 L806.6,660.5 L805.7,657.7 L805.1,654.8 L804.8,651.8 L804.7,648.6 L804.8,645.4 L805.1,642.1 L805.7,638.8 L806.6,635.5 L807.6,632.2 L808.9,628.9 L810.4,625.7 L812.1,622.6 L814,619.6 L816,616.8 L818.2,614.1 L820.6,611.6 L823,609.3 L825.6,607.2 L828.3,605.4 L831,603.8 L833.7,602.5 L836.5,601.4 L839.3,600.6 L842,600.1 L844.7,599.9 L847.4,600 L850,600.3 L852.4,601 L854.8,601.9 L857,603.1 L859,604.6 L860.9,606.3 L862.6,608.3 L864.1,610.5 L865.4,612.9 L866.4,615.5 L867.3,618.3 L867.9,621.2 L868.2,624.2 Z"/>
<path class="t" d="M842.6,670.3 L839.9,671.9 L837.1,673.3 L834.3,674.3 L831.5,675.1 L828.8,675.6 L826.1,675.8 L823.4,675.7 L820.9,675.4 L818.4,674.7 L816.1,673.8 L813.9,672.6 L811.8,671.1 L809.9,669.4 L808.2,667.4 L806.7,665.2 L805.5,662.8 L804.4,660.2 L803.6,657.5 L803,654.5 L802.6,651.5 L802.5,648.3 L802.6,645.1 L803,641.8 L803.6,638.5 L804.4,635.2 L805.5,631.9 L806.7,628.6 L808.2,625.4 L809.9,622.3 L811.8,619.4 L813.9,616.5 L816.1,613.8 L818.4,611.3 L820.9,609 L823.4,607 L826.1,605.1 L828.8,603.5 L831.5,602.2"/>
<path class="t" d="M828.5,607.2 L831,606 L833.5,605 L836,604.3 L838.4,603.9 L840.9,603.7 L843.3,603.7 L845.6,604.1 L847.8,604.7 L849.9,605.5 L851.9,606.6 L853.8,607.9 L855.4,609.5 L857,611.2 L858.3,613.2 L859.5,615.4 L860.4,617.7 L861.2,620.2 L861.7,622.9 L862.1,625.6 L862.2,628.4 L862.1,631.4 L861.7,634.3 L861.2,637.3 L860.4,640.3 L859.5,643.3 L858.3,646.2 L857,649.1 L855.4,651.9 L853.8,654.6 L851.9,657.1 L849.9,659.6 L847.8,661.8 L845.6,663.9 L843.3,665.8 L840.9,667.4 L838.4,668.9 L836,670.1 L833.5,671 L831,671.7 L828.5,672.2 L826,672.4"/>
<path class="t" d="M838.1,606 L840.4,606.1 L842.5,606.4 L844.5,606.9 L846.5,607.7 L848.3,608.7 L850,609.9 L851.6,611.4 L853,613 L854.3,614.8 L855.3,616.8 L856.2,619 L856.9,621.3 L857.4,623.7 L857.7,626.3 L857.8,628.9 L857.7,631.6 L857.4,634.3 L856.9,637.1 L856.2,639.9 L855.3,642.6 L854.3,645.3 L853,648 L851.6,650.6 L850,653.1 L848.3,655.4 L846.5,657.7 L844.5,659.7 L842.5,661.6 L840.4,663.4 L838.1,664.9 L835.9,666.2 L833.6,667.4"/>
<g transform="translate(0,4.5)"><path class="t" d="M807,648 C806,630 815,616 828,612.500 C838,610 843,614 841,621 C838,630 832,640 828.500,648.500"/>
<path class="t" d="M807,648 C810,657 817,661 826,658 C834,655 840,650 843,646"/>
</g><path class="ld" d="M806.800,712.300 L813.800,682.500"/>
</g>
<g id="p0219">
<path class="k w" d="M968.2,657.9 L968.1,663 L967.5,668.1 L966.6,673.3 L965.4,678.5 L963.8,683.6 L961.8,688.7 L959.6,693.6 L957.1,698.4 L954.2,703.1 L951.2,707.5 L947.8,711.6 L944.3,715.5 L940.6,719 L936.8,722.2 L932.8,725 L928.7,727.5 L924.6,729.5 L920.4,731.1 L916.2,732.3 L912.1,733 L908,733.3 L904,733.1 L900.2,732.5 L896.5,731.4 L892.9,729.9 L889.6,728 L886.6,725.6 L883.7,722.9 L881.2,719.8 L879,716.3 L877,712.5 L875.4,708.4 L874.2,704.1 L873.3,699.5 L872.7,694.8 L872.5,689.8 L872.7,684.8 L873.3,679.7 L874.2,674.5 L875.4,669.3 L877,664.2 L879,659.1 L881.2,654.2 L883.7,649.3 L886.6,644.7 L889.6,640.3 L892.9,636.2 L896.5,632.3 L900.2,628.8 L904,625.6 L908,622.8 L912.1,620.3 L916.2,618.3 L920.4,616.7 L924.6,615.5 L928.7,614.8 L932.8,614.5 L936.8,614.7 L940.6,615.3 L944.3,616.4 L947.8,617.9 L951.2,619.8 L954.2,622.2 L957.1,624.9 L959.6,628 L961.8,631.5 L963.8,635.3 L965.4,639.3 L966.6,643.7 L967.5,648.3 L968.1,653 Z"/>
<path class="k2 w" d="M969.6,658.5 L969.4,663.6 L968.8,668.7 L967.9,673.9 L966.7,679.1 L965.1,684.2 L963.1,689.3 L960.9,694.2 L958.4,699 L955.5,703.7 L952.5,708.1 L949.1,712.2 L945.6,716.1 L941.9,719.6 L938.1,722.8 L934.1,725.6 L930,728.1 L925.9,730.1 L921.7,731.7 L917.5,732.9 L913.4,733.6 L909.3,733.9 L905.3,733.7 L901.5,733.1 L897.8,732 L894.3,730.5 L890.9,728.6 L887.9,726.2 L885,723.5 L882.5,720.4 L880.3,716.9 L878.3,713.1 L876.7,709.1 L875.5,704.7 L874.6,700.1 L874,695.4 L873.9,690.5 L874,685.4 L874.6,680.3 L875.5,675.1 L876.7,669.9 L878.3,664.8 L880.3,659.7 L882.5,654.8 L885,650 L887.9,645.3 L890.9,640.9 L894.3,636.8 L897.8,632.9 L901.5,629.4 L905.3,626.2 L909.3,623.4 L913.4,620.9 L917.5,618.9 L921.7,617.3 L925.9,616.1 L930,615.4 L934.1,615.1 L938.1,615.3 L941.9,615.9 L945.6,617 L949.1,618.5 L952.5,620.4 L955.5,622.8 L958.4,625.5 L960.9,628.6 L963.1,632.1 L965.1,635.9 L966.7,639.9 L967.9,644.3 L968.8,648.9 L969.4,653.6 Z"/>
<path class="t" d="M966.9,659.4 L966.8,664.2 L966.3,669 L965.4,673.9 L964.2,678.8 L962.7,683.7 L960.9,688.5 L958.8,693.2 L956.4,697.7 L953.7,702.1 L950.8,706.2 L947.6,710.2 L944.3,713.8 L940.8,717.1 L937.2,720.2 L933.4,722.8 L929.6,725.1 L925.6,727.1 L921.7,728.6 L917.8,729.7 L913.8,730.4 L910,730.6 L906.2,730.5 L902.6,729.9 L899.1,728.9 L895.8,727.4 L892.6,725.6 L889.7,723.4 L887,720.8 L884.6,717.9 L882.5,714.6 L880.7,711 L879.2,707.2 L878,703.1 L877.1,698.7 L876.6,694.2 L876.5,689.6 L876.6,684.8 L877.1,680 L878,675.1 L879.2,670.2 L880.7,665.3 L882.5,660.5 L884.6,655.8 L887,651.3 L889.7,646.9 L892.6,642.8 L895.8,638.8 L899.1,635.2 L902.6,631.9 L906.2,628.8 L910,626.2 L913.8,623.9 L917.8,621.9 L921.7,620.4 L925.6,619.3 L929.6,618.6 L933.4,618.4 L937.2,618.5 L940.8,619.1 L944.3,620.1 L947.6,621.6 L950.8,623.4 L953.7,625.6 L956.4,628.2 L958.8,631.1 L960.9,634.4 L962.7,638 L964.2,641.8 L965.4,645.9 L966.3,650.3 L966.8,654.8 Z"/>
<path class="k" d="M961.3,660.8 L961.1,665 L960.7,669.2 L959.9,673.5 L958.9,677.8 L957.6,682 L956,686.2 L954.1,690.3 L952,694.3 L949.7,698.1 L947.1,701.7 L944.4,705.2 L941.5,708.4 L938.4,711.3 L935.2,713.9 L931.9,716.3 L928.6,718.3 L925.2,720 L921.7,721.3 L918.2,722.3 L914.8,722.9 L911.5,723.1 L908.2,723 L905,722.4 L901.9,721.6 L899,720.3 L896.3,718.7 L893.7,716.8 L891.4,714.5 L889.3,711.9 L887.4,709.1 L885.8,705.9 L884.5,702.6 L883.5,699 L882.7,695.2 L882.3,691.2 L882.1,687.2 L882.3,683 L882.7,678.8 L883.5,674.5 L884.5,670.2 L885.8,665.9 L887.4,661.7 L889.3,657.6 L891.4,653.7 L893.7,649.8 L896.3,646.2 L899,642.8 L901.9,639.6 L905,636.7 L908.2,634 L911.5,631.7 L914.8,629.7 L918.2,628 L921.7,626.7 L925.2,625.7 L928.6,625.1 L931.9,624.9 L935.2,625 L938.4,625.5 L941.5,626.4 L944.4,627.6 L947.1,629.2 L949.7,631.2 L952,633.5 L954.1,636 L956,638.9 L957.6,642 L958.9,645.4 L959.9,649 L960.7,652.8 L961.1,656.7 Z"/>
<path class="t" d="M959.1,661.5 L959,665.5 L958.5,669.6 L957.8,673.6 L956.8,677.7 L955.6,681.8 L954,685.8 L952.3,689.7 L950.3,693.5 L948,697.2 L945.6,700.7 L943,703.9 L940.2,707 L937.3,709.8 L934.2,712.3 L931.1,714.6 L927.8,716.5 L924.6,718.1 L921.3,719.4 L918,720.3 L914.7,720.9 L911.5,721.1 L908.3,721 L905.3,720.5 L902.3,719.6 L899.6,718.4 L896.9,716.9 L894.5,715 L892.3,712.9 L890.3,710.4 L888.5,707.7 L887,704.7 L885.7,701.5 L884.7,698 L884,694.4 L883.6,690.6 L883.4,686.7 L883.6,682.7 L884,678.7 L884.7,674.6 L885.7,670.5 L887,666.4 L888.5,662.4 L890.3,658.5 L892.3,654.7 L894.5,651.1 L896.9,647.6 L899.6,644.3 L902.3,641.3 L905.3,638.5 L908.3,635.9 L911.5,633.7 L914.7,631.8 L918,630.2 L921.3,628.9 L924.6,628 L927.8,627.4 L931.1,627.2 L934.2,627.3 L937.3,627.8 L940.2,628.6 L943,629.8 L945.6,631.4 L948,633.2 L950.3,635.4 L952.3,637.8 L954,640.6 L955.6,643.6 L956.8,646.8 L957.8,650.2 L958.5,653.8 L959,657.6 Z"/>
<path class="k" d="M953.1,660.3 L953,663.8 L952.6,667.3 L952,670.8 L951.2,674.3 L950.1,677.8 L948.8,681.3 L947.2,684.7 L945.5,687.9 L943.6,691.1 L941.5,694.1 L939.2,696.9 L936.8,699.5 L934.3,702 L931.7,704.1 L928.9,706.1 L926.2,707.7 L923.3,709.1 L920.5,710.2 L917.7,711 L914.8,711.5 L912.1,711.7 L909.3,711.6 L906.7,711.1 L904.2,710.4 L901.8,709.4 L899.5,708.1 L897.4,706.5 L895.5,704.6 L893.8,702.5 L892.2,700.1 L890.9,697.5 L889.8,694.8 L889,691.8 L888.4,688.7 L888,685.4 L887.9,682.1 L888,678.6 L888.4,675.1 L889,671.6 L889.8,668.1 L890.9,664.6 L892.2,661.1 L893.8,657.7 L895.5,654.5 L897.4,651.3 L899.5,648.3 L901.8,645.5 L904.2,642.9 L906.7,640.4 L909.3,638.3 L912.1,636.3 L914.8,634.7 L917.7,633.3 L920.5,632.2 L923.3,631.4 L926.2,630.9 L928.9,630.7 L931.7,630.8 L934.3,631.3 L936.8,632 L939.2,633 L941.5,634.3 L943.6,635.9 L945.5,637.8 L947.2,639.9 L948.8,642.3 L950.1,644.9 L951.2,647.6 L952,650.6 L952.6,653.7 L953,657 Z"/>
<path class="k" d="M937.4,630.8 L940.2,631.6 L942.8,632.8 L945.2,634.3 L947.5,636.1 L949.6,638.2 L951.4,640.6 L953,643.3 L954.4,646.2 L955.6,649.3 L956.5,652.5 L957.1,656 L957.5,659.6 M957.5,659.6 L961.1,657.2 M954.4,657.4 L957.5,659.6"/>
<circle cx="877.6" cy="670" r="1" fill="#222"/><circle cx="886.8" cy="648.6" r="1" fill="#222"/><circle cx="905.6" cy="627.1" r="1" fill="#222"/><circle cx="875.4" cy="699.7" r="1" fill="#222"/><circle cx="881" cy="716.1" r="1" fill="#222"/><circle cx="892.8" cy="728.4" r="1" fill="#222"/><circle cx="945.2" cy="618" r="1" fill="#222"/><circle cx="957.7" cy="626.4" r="1" fill="#222"/><circle cx="925.8" cy="617.2" r="1" fill="#222"/><circle cx="965.8" cy="679" r="1" fill="#222"/><circle cx="945.2" cy="715.3" r="1" fill="#222"/><circle cx="917.6" cy="731.8" r="1" fill="#222"/><path d="M891.7,638.6 L895.2,634.5" stroke="#1c1c1c" stroke-width="2.6" stroke-linecap="round" fill="none"/><path d="M891.7,638.6 L895.2,634.5" stroke="#fff" stroke-width="1.1" stroke-linecap="round" fill="none"/><path d="M913.2,620 L917.5,617.9" stroke="#1c1c1c" stroke-width="2.6" stroke-linecap="round" fill="none"/><path d="M913.2,620 L917.5,617.9" stroke="#fff" stroke-width="1.1" stroke-linecap="round" fill="none"/><path d="M875.1,673 L876.5,667.7" stroke="#1c1c1c" stroke-width="2.6" stroke-linecap="round" fill="none"/><path d="M875.1,673 L876.5,667.7" stroke="#fff" stroke-width="1.1" stroke-linecap="round" fill="none"/><path d="M874.6,705.3 L873.7,700.6" stroke="#1c1c1c" stroke-width="2.6" stroke-linecap="round" fill="none"/><path d="M874.6,705.3 L873.7,700.6" stroke="#fff" stroke-width="1.1" stroke-linecap="round" fill="none"/><path class="ld" d="M966.900,586.200 L951.600,619.900"/>
</g>
<g id="p0221">
<path class="k w" d="M1080.7,694.2 L1080.5,699.3 L1080,704.5 L1079.1,709.7 L1077.9,714.9 L1076.3,720.1 L1074.4,725.2 L1072.1,730.2 L1069.6,735.1 L1066.8,739.7 L1063.7,744.2 L1060.5,748.3 L1057,752.2 L1053.3,755.8 L1049.5,759 L1045.5,761.8 L1041.5,764.3 L1037.4,766.3 L1033.2,767.9 L1029.1,769 L1025,769.8 L1020.9,770 L1017,769.8 L1013.1,769.2 L1009.5,768 L1006,766.5 L1002.7,764.5 L999.6,762.1 L996.8,759.3 L994.3,756.2 L992.1,752.7 L990.2,748.8 L988.6,744.7 L987.3,740.3 L986.4,735.6 L985.9,730.8 L985.7,725.8 L985.9,720.7 L986.4,715.5 L987.3,710.3 L988.6,705.1 L990.2,699.9 L992.1,694.8 L994.3,689.8 L996.8,684.9 L999.6,680.3 L1002.7,675.8 L1006,671.7 L1009.5,667.8 L1013.1,664.2 L1017,661 L1020.9,658.2 L1025,655.8 L1029.1,653.7 L1033.2,652.1 L1037.4,651 L1041.5,650.3 L1045.5,650 L1049.5,650.2 L1053.3,650.9 L1057,652 L1060.5,653.5 L1063.7,655.5 L1066.8,657.9 L1069.6,660.7 L1072.1,663.8 L1074.4,667.4 L1076.3,671.2 L1077.9,675.3 L1079.1,679.7 L1080,684.4 L1080.5,689.2 Z"/>
<path class="k w" d="M1085.5,694.2 L1085.3,699.3 L1084.8,704.5 L1083.9,709.7 L1082.6,714.9 L1081.1,720.1 L1079.1,725.2 L1076.9,730.2 L1074.4,735.1 L1071.6,739.7 L1068.5,744.2 L1065.2,748.3 L1061.8,752.2 L1058.1,755.8 L1054.2,759 L1050.3,761.8 L1046.2,764.2 L1042.1,766.3 L1038,767.9 L1033.9,769 L1029.8,769.7 L1025.7,770 L1021.8,769.8 L1017.9,769.1 L1014.2,768 L1010.8,766.5 L1007.5,764.5 L1004.4,762.1 L1001.6,759.3 L999.1,756.2 L996.9,752.7 L994.9,748.8 L993.4,744.7 L992.1,740.3 L991.2,735.6 L990.7,730.8 L990.5,725.8 L990.7,720.7 L991.2,715.5 L992.1,710.3 L993.4,705.1 L994.9,699.9 L996.9,694.8 L999.1,689.8 L1001.6,684.9 L1004.4,680.3 L1007.5,675.8 L1010.8,671.7 L1014.2,667.8 L1017.9,664.2 L1021.8,661 L1025.7,658.2 L1029.8,655.8 L1033.9,653.7 L1038,652.1 L1042.1,651 L1046.2,650.3 L1050.3,650 L1054.2,650.2 L1058.1,650.9 L1061.8,652 L1065.2,653.5 L1068.5,655.5 L1071.6,657.9 L1074.4,660.7 L1076.9,663.8 L1079.1,667.3 L1081.1,671.2 L1082.6,675.3 L1083.9,679.7 L1084.8,684.4 L1085.3,689.2 Z"/>
<path class="k2" d="M1079.8,695.2 L1079.7,699.6 L1079.2,704.1 L1078.4,708.6 L1077.4,713.2 L1076,717.7 L1074.3,722.1 L1072.4,726.4 L1070.2,730.6 L1067.8,734.7 L1065.1,738.5 L1062.3,742.1 L1059.3,745.5 L1056.1,748.6 L1052.8,751.3 L1049.3,753.8 L1045.8,755.9 L1042.3,757.7 L1038.7,759.1 L1035.1,760.1 L1031.6,760.7 L1028,760.9 L1024.6,760.7 L1021.3,760.2 L1018.1,759.2 L1015.1,757.9 L1012.2,756.1 L1009.6,754.1 L1007.2,751.7 L1005,748.9 L1003.1,745.9 L1001.4,742.5 L1000,739 L998.9,735.1 L998.2,731.1 L997.7,727 L997.5,722.6 L997.7,718.2 L998.2,713.7 L998.9,709.2 L1000,704.7 L1001.4,700.2 L1003.1,695.7 L1005,691.4 L1007.2,687.2 L1009.6,683.2 L1012.2,679.3 L1015.1,675.7 L1018.1,672.4 L1021.3,669.3 L1024.6,666.5 L1028,664 L1031.6,661.9 L1035.1,660.2 L1038.7,658.8 L1042.3,657.8 L1045.8,657.2 L1049.3,656.9 L1052.8,657.1 L1056.1,657.7 L1059.3,658.6 L1062.3,660 L1065.1,661.7 L1067.8,663.8 L1070.2,666.2 L1072.4,668.9 L1074.3,672 L1076,675.3 L1077.4,678.9 L1078.4,682.7 L1079.2,686.7 L1079.7,690.9 Z"/>
<path class="t" d="M1033.3,763.4 L1029.6,764.1 L1026,764.3 L1022.4,764.1 L1019,763.5 L1015.7,762.5 L1012.6,761.2 L1009.7,759.4 L1006.9,757.3 L1004.4,754.8 L1002.2,751.9 L1000.2,748.8 L998.5,745.4 L997.1,741.7 L995.9,737.7 L995.1,733.6 L994.7,729.3 L994.5,724.8 L994.7,720.3 L995.1,715.6 L995.9,710.9 L997.1,706.3 L998.5,701.6 L1000.2,697.1 L1002.2,692.6 L1004.4,688.3 L1006.9,684.1 L1009.7,680.1 L1012.6,676.4 L1015.7,672.9 L1019,669.8 L1022.4,666.9 L1026,664.4 L1029.6,662.2 L1033.3,660.4 L1037,658.9"/>
<path class="k" d="M985.500,717 L989.500,716.500 L989.500,734.500 L985.500,736 M985.500,719 L985.500,735"/>
</g>

<!-- 90_labels.svg -->
<g font-size="15.5" opacity=".995">
<text x="337.5" y="96.0">0201</text>
<text x="32.5" y="371.5">0202</text>
<text x="435.0" y="277.0">0207</text>
<text x="504.0" y="170.5">0214</text>
<text x="635.0" y="182.5">0203</text>
<text x="694.0" y="170.0">0204</text>
<text x="716.2" y="287.5">0205</text>
<text x="917.5" y="366.0">0240</text>
<text x="1004.0" y="365.0">0241</text>
<text x="522.0" y="378.0">0211</text>
<text x="572.0" y="381.2">0213</text>
<text x="691.0" y="370.0">0212</text>
<text x="524.0" y="432.2">0212</text>
<text x="718.5" y="437.2">0215</text>
<text x="407.0" y="519.5">0224</text>
<text x="784.0" y="511.6">0216</text>
<text x="890.5" y="531.0">0220</text>
<text x="959.9" y="575.2">0219</text>
<text x="1052.2" y="636.3">0221</text>
<text x="356.5" y="613.0">0223</text>
<text x="399.5" y="636.5">0210</text>
<text x="464.0" y="662.5">0226</text>
<text x="519.0" y="678.0">0212</text>
<text x="661.0" y="715.5">0209</text>
<text x="787.5" y="729.5">0218</text>
<text x="582.2" y="761.5">0208</text>
<text x="137.5" y="610.0">0225</text>
<text x="186.5" y="678.0">0206</text>
</g>
<g opacity=".995"><text x="11.5" y="810.2" font-size="16.1" textLength="232" lengthAdjust="spacingAndGlyphs">58300000184370 aet 000 a 2/5</text>
<text x="888.3" y="819.2" font-size="9.9" textLength="162" lengthAdjust="spacingAndGlyphs">© Robert Bosch Hausgeräte GmbH</text></g>

<!-- 95_watermark.svg -->
<g id="watermark">
<path d="M517.1,395.3 L522.1,395.2 L522.1,402.0 L517.1,401.9 L515.0,405.5 L517.5,409.9 L511.7,413.3 L509.2,408.9 L505.0,408.9 L502.5,413.3 L496.7,409.9 L499.2,405.5 L497.1,401.9 L492.1,402.0 L492.1,395.2 L497.1,395.3 L499.2,391.7 L496.7,387.3 L502.5,383.9 L505.0,388.3 L509.2,388.3 L511.7,383.9 L517.5,387.3 L515.0,391.7 Z M513.1,398.6 A6.0,6.0 0 1,0 501.1,398.6 A6.0,6.0 0 1,0 513.1,398.6 Z" fill="#e23a3a" fill-opacity=".17" fill-rule="evenodd" stroke="#e23a3a" stroke-opacity=".17" stroke-width="2" stroke-linejoin="round"/>
<path d="M536.4,405.6 L536.5,409.4 L531.5,409.4 L531.6,405.6 L529.0,404.1 L525.7,406.0 L523.2,401.8 L526.5,399.9 L526.5,396.9 L523.2,395.0 L525.7,390.8 L529.0,392.7 L531.6,391.2 L531.5,387.4 L536.5,387.4 L536.4,391.2 L539.0,392.7 L542.3,390.8 L544.8,395.0 L541.5,396.9 L541.5,399.9 L544.8,401.8 L542.3,406.0 L539.0,404.1 Z M538.6,398.4 A4.6,4.6 0 1,0 529.4,398.4 A4.6,4.6 0 1,0 538.6,398.4 Z" fill="#555" fill-opacity=".2" fill-rule="evenodd" stroke="#555" stroke-opacity=".2" stroke-width="1.5" stroke-linejoin="round"/>
<g opacity=".185"><text x="551.5" y="414.3" font-size="42.6" font-weight="bold" textLength="119.5" lengthAdjust="spacingAndGlyphs" style="fill:#4a7ab5;stroke:#4a7ab5;stroke-width:1.4">MAMLUX</text></g>
<text x="501.4" y="433.5" font-size="15.4" textLength="164" lengthAdjust="spacingAndGlyphs" style="fill:#555;fill-opacity:.15;stroke:#555;stroke-opacity:.15;stroke-width:.5">ORIGINÁLNÍ NÁHRADNÍ DÍLY</text>
<text x="511.2" y="449.4" font-size="14.6" textLength="143" lengthAdjust="spacingAndGlyphs" style="fill:#555;fill-opacity:.15;stroke:#555;stroke-opacity:.15;stroke-width:.5">PRO DOMÁCÍ SPOTŘEBIČE</text>
</g>

</svg>
</body></html>
